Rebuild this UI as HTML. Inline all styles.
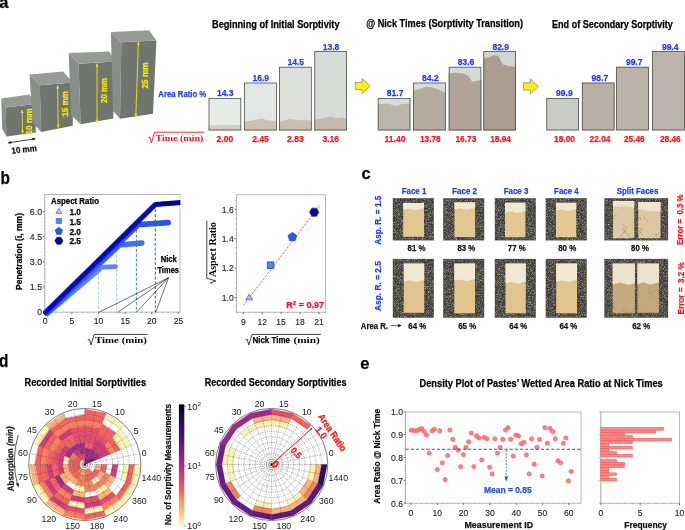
<!DOCTYPE html>
<html><head><meta charset="utf-8"><style>
html,body{margin:0;padding:0;background:#fff;width:685px;height:530px;overflow:hidden}
svg{display:block;will-change:transform}
</style></head><body>
<svg width="685" height="530" viewBox="0 0 685 530">
<defs>
<filter id="spk" x="0" y="0" width="100%" height="100%" color-interpolation-filters="sRGB">
 <feTurbulence type="fractalNoise" baseFrequency="1.5" numOctaves="2" seed="7" result="n"/>
 <feColorMatrix in="n" type="matrix" values="0 0 0 0 0.66  0 0 0 0 0.65  0 0 0 0 0.60  2.4 0 0 0 -0.98" result="s"/>
 <feGaussianBlur in="s" stdDeviation="0.01" result="s2"/>
 <feComposite in="s2" in2="SourceAlpha" operator="in"/>
</filter>
<filter id="blur03"><feGaussianBlur stdDeviation="0.35"/></filter>
</defs><defs><linearGradient id="magma" x1="0" y1="1" x2="0" y2="0"><stop offset="0.000" stop-color="#fcfdbf"/><stop offset="0.111" stop-color="#fec488"/><stop offset="0.222" stop-color="#fc8961"/><stop offset="0.333" stop-color="#e75263"/><stop offset="0.444" stop-color="#c03a76"/><stop offset="0.556" stop-color="#8c2981"/><stop offset="0.667" stop-color="#641a80"/><stop offset="0.778" stop-color="#3b0f70"/><stop offset="0.889" stop-color="#1d1147"/><stop offset="1.000" stop-color="#000004"/></linearGradient></defs>
<text x="-0.8" y="8.2" font-size="16.5" font-weight="bold" fill="#000" text-anchor="start" font-family='"Liberation Sans", sans-serif'  stroke="#000" stroke-width="0.25">a</text>
<text x="0.5" y="183.9" font-size="17.9" font-weight="bold" fill="#000" text-anchor="start" font-family='"Liberation Sans", sans-serif' textLength="9.4" lengthAdjust="spacingAndGlyphs"  stroke="#000" stroke-width="0.25">b</text>
<text x="361.5" y="179.3" font-size="16.5" font-weight="bold" fill="#000" text-anchor="start" font-family='"Liberation Sans", sans-serif'  stroke="#000" stroke-width="0.25">c</text>
<text x="-1.0" y="366.7" font-size="17.8" font-weight="bold" fill="#000" text-anchor="start" font-family='"Liberation Sans", sans-serif' textLength="9.4" lengthAdjust="spacingAndGlyphs"  stroke="#000" stroke-width="0.25">d</text>
<text x="360.3" y="369.2" font-size="16.5" font-weight="bold" fill="#000" text-anchor="start" font-family='"Liberation Sans", sans-serif'  stroke="#000" stroke-width="0.25">e</text>
<polygon points="1.3,98.6 5.6,107.4 6.4,136.4 2.2,129.0" fill="#878d88" />
<polygon points="5.6,107.4 35.6,104.0 35.8,132.4 6.4,136.4" fill="#71756f" />
<polygon points="1.3,98.6 29.4,94.4 35.6,104.0 5.6,107.4" fill="#979b95" />
<polygon points="29.6,74.4 39.8,85.2 41.2,132.0 32.6,122.6" fill="#878d88" />
<polygon points="39.8,85.2 72.8,82.6 72.8,125.8 41.2,132.0" fill="#71756f" />
<polygon points="29.6,74.4 63.0,71.4 72.8,82.6 39.8,85.2" fill="#979b95" />
<polygon points="68.8,53.0 78.6,63.8 80.6,124.2 70.8,114.6" fill="#878d88" />
<polygon points="78.6,63.8 115.5,61.6 113.2,118.4 80.6,124.2" fill="#71756f" />
<polygon points="68.8,53.0 109.2,51.5 115.5,61.6 78.6,63.8" fill="#979b95" />
<polygon points="110.9,32.0 121.4,42.2 120.0,118.8 113.0,110.8" fill="#878d88" />
<polygon points="121.4,42.2 156.4,40.4 153.0,113.8 120.0,118.8" fill="#71756f" />
<polygon points="110.9,32.0 149.0,30.2 156.4,40.4 121.4,42.2" fill="#979b95" />
<line x1="22.0" y1="110.0" x2="22.6" y2="133.6" stroke="#f2e60a" stroke-width="0.9"/>
<polygon points="22.0,110.0 20.6,113.0 23.6,113.0" fill="#f2e60a"/>
<polygon points="22.6,133.6 24.0,130.6 21.0,130.6" fill="#f2e60a"/>
<line x1="57.6" y1="85.6" x2="58.2" y2="127.8" stroke="#f2e60a" stroke-width="0.9"/>
<polygon points="57.6,85.6 56.1,88.6 59.1,88.6" fill="#f2e60a"/>
<polygon points="58.2,127.8 59.7,124.8 56.7,124.8" fill="#f2e60a"/>
<line x1="97.0" y1="63.8" x2="97.0" y2="122.8" stroke="#f2e60a" stroke-width="0.9"/>
<polygon points="97.0,63.8 95.5,66.8 98.5,66.8" fill="#f2e60a"/>
<polygon points="97.0,122.8 98.5,119.8 95.5,119.8" fill="#f2e60a"/>
<line x1="138.4" y1="41.8" x2="135.8" y2="116.6" stroke="#f2e60a" stroke-width="0.9"/>
<polygon points="138.4,41.8 136.8,44.7 139.8,44.9" fill="#f2e60a"/>
<polygon points="135.8,116.6 137.4,113.7 134.4,113.5" fill="#f2e60a"/>
<text transform="translate(29.4,121.5) rotate(-90)" x="0" y="0" font-size="8.4" font-weight="bold" fill="#f2e60a" text-anchor="middle" dominant-baseline="central" font-family='"Liberation Sans", sans-serif' textLength="26" lengthAdjust="spacingAndGlyphs" stroke="#f2e60a" stroke-width="0.3">10 mm</text>
<text transform="translate(65.2,104) rotate(-90)" x="0" y="0" font-size="8.4" font-weight="bold" fill="#f2e60a" text-anchor="middle" dominant-baseline="central" font-family='"Liberation Sans", sans-serif' textLength="25.5" lengthAdjust="spacingAndGlyphs" stroke="#f2e60a" stroke-width="0.3">15 mm</text>
<text transform="translate(104.2,90.5) rotate(-90)" x="0" y="0" font-size="8.4" font-weight="bold" fill="#f2e60a" text-anchor="middle" dominant-baseline="central" font-family='"Liberation Sans", sans-serif' textLength="25" lengthAdjust="spacingAndGlyphs" stroke="#f2e60a" stroke-width="0.3">20 mm</text>
<text transform="translate(144.6,75.5) rotate(-90)" x="0" y="0" font-size="8.4" font-weight="bold" fill="#f2e60a" text-anchor="middle" dominant-baseline="central" font-family='"Liberation Sans", sans-serif' textLength="26" lengthAdjust="spacingAndGlyphs" stroke="#f2e60a" stroke-width="0.3">25 mm</text>
<line x1="8.4" y1="142.8" x2="35.0" y2="138.8" stroke="#111" stroke-width="0.8"/>
<polygon points="7.6,142.9 11.0,140.9 11.4,143.7" fill="#111"/>
<polygon points="35.8,138.7 32.2,137.8 32.7,140.6" fill="#111"/>
<text transform="translate(24.4,152.4) rotate(-6)" font-size="8.6" stroke="#111" stroke-width="0.2" font-weight="bold" text-anchor="middle" font-family='"Liberation Sans", sans-serif' textLength="25.5" lengthAdjust="spacingAndGlyphs">10 mm</text>
<rect x="208.6" y="98.0" width="32.6" height="32.400000000000006" fill="#e6ebe8"/>
<path d="M208.6,130.4 L208.6,125.6 L224.9,125.0 L241.2,125.2 L241.2,130.4 Z" fill="#d3cdc3"/>
<rect x="209.0" y="98.4" width="31.8" height="31.600000000000005" fill="none" stroke="#4a4a46" stroke-width="0.75"/>
<text x="225.20000000000002" y="96.3" font-size="9.3" font-weight="bold" fill="#1d3cf5" text-anchor="middle" font-family='"Liberation Sans", sans-serif' textLength="16.6" lengthAdjust="spacingAndGlyphs"  stroke="#1d3cf5" stroke-width="0.25">14.3</text>
<text x="224.9" y="141.9" font-size="9.3" font-weight="bold" fill="#f5161b" text-anchor="middle" font-family='"Liberation Sans", sans-serif' textLength="16.6" lengthAdjust="spacingAndGlyphs"  stroke="#f5161b" stroke-width="0.25">2.00</text>
<rect x="244.2" y="82.6" width="32.6" height="47.80000000000001" fill="#e3e7e3"/>
<path d="M244.2,130.4 L244.2,121.5 L252.3,120.5 L257.2,119.2 L262.1,118.4 L267.0,120.2 L276.8,121.0 L276.8,130.4 Z" fill="#cbc2b4"/>
<rect x="244.6" y="83.0" width="31.8" height="47.000000000000014" fill="none" stroke="#4a4a46" stroke-width="0.75"/>
<text x="260.8" y="80.89999999999999" font-size="9.3" font-weight="bold" fill="#1d3cf5" text-anchor="middle" font-family='"Liberation Sans", sans-serif' textLength="16.6" lengthAdjust="spacingAndGlyphs"  stroke="#1d3cf5" stroke-width="0.25">16.9</text>
<text x="260.5" y="141.9" font-size="9.3" font-weight="bold" fill="#f5161b" text-anchor="middle" font-family='"Liberation Sans", sans-serif' textLength="16.6" lengthAdjust="spacingAndGlyphs"  stroke="#f5161b" stroke-width="0.25">2.45</text>
<rect x="279.1" y="66.8" width="32.6" height="63.60000000000001" fill="#dcdfda"/>
<path d="M279.1,130.4 L279.1,121.8 L285.6,120.0 L290.5,119.0 L298.7,120.5 L305.2,119.6 L311.7,121.0 L311.70000000000005,130.4 Z" fill="#c8bfb0"/>
<rect x="279.5" y="67.2" width="31.8" height="62.80000000000001" fill="none" stroke="#4a4a46" stroke-width="0.75"/>
<text x="295.70000000000005" y="65.1" font-size="9.3" font-weight="bold" fill="#1d3cf5" text-anchor="middle" font-family='"Liberation Sans", sans-serif' textLength="16.6" lengthAdjust="spacingAndGlyphs"  stroke="#1d3cf5" stroke-width="0.25">14.5</text>
<text x="295.40000000000003" y="141.9" font-size="9.3" font-weight="bold" fill="#f5161b" text-anchor="middle" font-family='"Liberation Sans", sans-serif' textLength="16.6" lengthAdjust="spacingAndGlyphs"  stroke="#f5161b" stroke-width="0.25">2.83</text>
<rect x="314.4" y="51.2" width="32.6" height="79.2" fill="#d6dbd6"/>
<path d="M314.4,130.4 L314.4,119.8 L324.2,118.0 L330.7,116.8 L337.2,118.2 L342.1,117.2 L347.0,119.2 L347.0,130.4 Z" fill="#c4baab"/>
<rect x="314.79999999999995" y="51.6" width="31.8" height="78.4" fill="none" stroke="#4a4a46" stroke-width="0.75"/>
<text x="331.0" y="49.5" font-size="9.3" font-weight="bold" fill="#1d3cf5" text-anchor="middle" font-family='"Liberation Sans", sans-serif' textLength="16.6" lengthAdjust="spacingAndGlyphs"  stroke="#1d3cf5" stroke-width="0.25">13.8</text>
<text x="330.7" y="141.9" font-size="9.3" font-weight="bold" fill="#f5161b" text-anchor="middle" font-family='"Liberation Sans", sans-serif' textLength="16.6" lengthAdjust="spacingAndGlyphs"  stroke="#f5161b" stroke-width="0.25">3.16</text>
<rect x="377.8" y="98.0" width="32.6" height="32.400000000000006" fill="#d5ddd9"/>
<path d="M377.8,130.4 L377.8,104.5 L387.6,103.5 L395.7,106.0 L402.2,104.0 L410.4,103.5 L410.40000000000003,130.4 Z" fill="#bbb6ab"/>
<rect x="378.2" y="98.4" width="31.8" height="31.600000000000005" fill="none" stroke="#4a4a46" stroke-width="0.75"/>
<text x="395.1" y="96.3" font-size="9.3" font-weight="bold" fill="#1d3cf5" text-anchor="middle" font-family='"Liberation Sans", sans-serif' textLength="16.6" lengthAdjust="spacingAndGlyphs"  stroke="#1d3cf5" stroke-width="0.25">81.7</text>
<text x="395.0" y="141.9" font-size="9.3" font-weight="bold" fill="#f5161b" text-anchor="middle" font-family='"Liberation Sans", sans-serif' textLength="20.8" lengthAdjust="spacingAndGlyphs"  stroke="#f5161b" stroke-width="0.25">11.40</text>
<rect x="413.1" y="82.6" width="32.6" height="47.80000000000001" fill="#d6ddd9"/>
<path d="M413.1,130.4 L413.1,91.0 L421.2,88.5 L426.1,86.8 L432.7,87.5 L439.2,90.0 L445.7,93.0 L445.70000000000005,130.4 Z" fill="#b6aa9c"/>
<rect x="413.5" y="83.0" width="31.8" height="47.000000000000014" fill="none" stroke="#4a4a46" stroke-width="0.75"/>
<text x="430.40000000000003" y="80.89999999999999" font-size="9.3" font-weight="bold" fill="#1d3cf5" text-anchor="middle" font-family='"Liberation Sans", sans-serif' textLength="16.6" lengthAdjust="spacingAndGlyphs"  stroke="#1d3cf5" stroke-width="0.25">84.2</text>
<text x="430.3" y="141.9" font-size="9.3" font-weight="bold" fill="#f5161b" text-anchor="middle" font-family='"Liberation Sans", sans-serif' textLength="20.8" lengthAdjust="spacingAndGlyphs"  stroke="#f5161b" stroke-width="0.25">13.78</text>
<rect x="448.7" y="66.8" width="32.6" height="63.60000000000001" fill="#d4dbd7"/>
<path d="M448.7,130.4 L448.7,73.5 L455.2,72.8 L463.4,73.5 L468.3,76.0 L472.2,81.8 L476.4,81.0 L481.3,80.0 L481.3,130.4 Z" fill="#b1a395"/>
<rect x="449.09999999999997" y="67.2" width="31.8" height="62.80000000000001" fill="none" stroke="#4a4a46" stroke-width="0.75"/>
<text x="466.0" y="65.1" font-size="9.3" font-weight="bold" fill="#1d3cf5" text-anchor="middle" font-family='"Liberation Sans", sans-serif' textLength="16.6" lengthAdjust="spacingAndGlyphs"  stroke="#1d3cf5" stroke-width="0.25">83.6</text>
<text x="465.9" y="141.9" font-size="9.3" font-weight="bold" fill="#f5161b" text-anchor="middle" font-family='"Liberation Sans", sans-serif' textLength="20.8" lengthAdjust="spacingAndGlyphs"  stroke="#f5161b" stroke-width="0.25">16.73</text>
<rect x="483.4" y="51.2" width="32.6" height="79.2" fill="#ced5d2"/>
<path d="M483.4,130.4 L483.4,58.5 L489.9,57.2 L493.2,55.2 L498.1,55.6 L500.4,60.0 L503.0,64.5 L507.8,66.0 L516.0,66.8 L516.0,130.4 Z" fill="#aa9c8e"/>
<rect x="483.79999999999995" y="51.6" width="31.8" height="78.4" fill="none" stroke="#4a4a46" stroke-width="0.75"/>
<text x="500.7" y="49.5" font-size="9.3" font-weight="bold" fill="#1d3cf5" text-anchor="middle" font-family='"Liberation Sans", sans-serif' textLength="16.6" lengthAdjust="spacingAndGlyphs"  stroke="#1d3cf5" stroke-width="0.25">82.9</text>
<text x="500.59999999999997" y="141.9" font-size="9.3" font-weight="bold" fill="#f5161b" text-anchor="middle" font-family='"Liberation Sans", sans-serif' textLength="20.8" lengthAdjust="spacingAndGlyphs"  stroke="#f5161b" stroke-width="0.25">18.94</text>
<rect x="546.4" y="98.0" width="32.6" height="32.400000000000006" fill="#c9ccc5"/>
<rect x="546.8" y="98.4" width="31.8" height="31.600000000000005" fill="none" stroke="#4a4a46" stroke-width="0.75"/>
<text x="564.3999999999999" y="96.3" font-size="9.3" font-weight="bold" fill="#1d3cf5" text-anchor="middle" font-family='"Liberation Sans", sans-serif' textLength="16.6" lengthAdjust="spacingAndGlyphs"  stroke="#1d3cf5" stroke-width="0.25">99.9</text>
<text x="564.4999999999999" y="141.9" font-size="9.3" font-weight="bold" fill="#f5161b" text-anchor="middle" font-family='"Liberation Sans", sans-serif' textLength="20.8" lengthAdjust="spacingAndGlyphs"  stroke="#f5161b" stroke-width="0.25">18.00</text>
<rect x="581.9" y="82.6" width="32.6" height="47.80000000000001" fill="#b9b0a5"/>
<rect x="582.3" y="83.0" width="31.8" height="47.000000000000014" fill="none" stroke="#4a4a46" stroke-width="0.75"/>
<text x="599.8999999999999" y="80.89999999999999" font-size="9.3" font-weight="bold" fill="#1d3cf5" text-anchor="middle" font-family='"Liberation Sans", sans-serif' textLength="16.6" lengthAdjust="spacingAndGlyphs"  stroke="#1d3cf5" stroke-width="0.25">98.7</text>
<text x="599.9999999999999" y="141.9" font-size="9.3" font-weight="bold" fill="#f5161b" text-anchor="middle" font-family='"Liberation Sans", sans-serif' textLength="20.8" lengthAdjust="spacingAndGlyphs"  stroke="#f5161b" stroke-width="0.25">22.04</text>
<rect x="616.2" y="66.8" width="32.6" height="63.60000000000001" fill="#bab3a9"/>
<rect x="616.6" y="67.2" width="31.8" height="62.80000000000001" fill="none" stroke="#4a4a46" stroke-width="0.75"/>
<text x="634.1999999999999" y="65.1" font-size="9.3" font-weight="bold" fill="#1d3cf5" text-anchor="middle" font-family='"Liberation Sans", sans-serif' textLength="16.6" lengthAdjust="spacingAndGlyphs"  stroke="#1d3cf5" stroke-width="0.25">99.7</text>
<text x="634.3" y="141.9" font-size="9.3" font-weight="bold" fill="#f5161b" text-anchor="middle" font-family='"Liberation Sans", sans-serif' textLength="20.8" lengthAdjust="spacingAndGlyphs"  stroke="#f5161b" stroke-width="0.25">25.46</text>
<rect x="652.2" y="51.2" width="32.6" height="79.2" fill="#bab4ac"/>
<rect x="652.6" y="51.6" width="31.8" height="78.4" fill="none" stroke="#4a4a46" stroke-width="0.75"/>
<text x="670.1999999999999" y="49.5" font-size="9.3" font-weight="bold" fill="#1d3cf5" text-anchor="middle" font-family='"Liberation Sans", sans-serif' textLength="16.6" lengthAdjust="spacingAndGlyphs"  stroke="#1d3cf5" stroke-width="0.25">99.4</text>
<text x="670.3" y="141.9" font-size="9.3" font-weight="bold" fill="#f5161b" text-anchor="middle" font-family='"Liberation Sans", sans-serif' textLength="20.8" lengthAdjust="spacingAndGlyphs"  stroke="#f5161b" stroke-width="0.25">28.46</text>
<text x="158.3" y="97.4" font-size="9.3" font-weight="bold" fill="#1d3cf5" text-anchor="start" font-family='"Liberation Sans", sans-serif' textLength="48" lengthAdjust="spacingAndGlyphs"  stroke="#1d3cf5" stroke-width="0.25">Area Ratio %</text>
<path d="M148.2,138.0 L149.8,137.0 L151.4,143.0 L154.6,132.2 L204.0,132.2" fill="none" stroke="#f5161b" stroke-width="0.9"/>
<text x="155.4" y="141.3" font-size="9.2" font-weight="bold" fill="#f5161b" text-anchor="start" font-family='"Liberation Serif", serif' textLength="48" lengthAdjust="spacingAndGlyphs" >Time (min)</text>
<text x="212.0" y="27.5" font-size="10.2" font-weight="bold" fill="#000" text-anchor="start" font-family='"Liberation Sans", sans-serif' textLength="127.5" lengthAdjust="spacingAndGlyphs"  stroke="#000" stroke-width="0.25">Beginning of Initial Sorptivity</text>
<text x="366.2" y="27.4" font-size="10.2" font-weight="bold" fill="#000" text-anchor="start" font-family='"Liberation Sans", sans-serif' textLength="156.8" lengthAdjust="spacingAndGlyphs"  stroke="#000" stroke-width="0.25">@ Nick Times (Sorptivity Transition)</text>
<text x="552.1" y="28.0" font-size="10.2" font-weight="bold" fill="#000" text-anchor="start" font-family='"Liberation Sans", sans-serif' textLength="120.8" lengthAdjust="spacingAndGlyphs"  stroke="#000" stroke-width="0.25">End of Secondary Sorptivity</text>
<polygon points="355.2,82.4 362.2,82.4 362.2,78.5 370.2,86.0 362.2,93.5 362.2,89.6 355.2,89.6" fill="#fbf200" stroke="#8e6aa6" stroke-width="0.7"/>
<polygon points="523.4,82.8 530.4,82.8 530.4,78.9 538.4,86.4 530.4,93.9 530.4,90.0 523.4,90.0" fill="#fbf200" stroke="#8e6aa6" stroke-width="0.7"/>
<rect x="44.9" y="194.4" width="135.1" height="117.70000000000002" fill="none" stroke="#a6a6a6" stroke-width="0.8"/>
<line x1="42.9" y1="312.1" x2="44.9" y2="312.1" stroke="#555" stroke-width="0.8"/>
<text x="42.1" y="312.40000000000003" font-size="8.6" fill="#222" stroke="#222" stroke-width="0.12" text-anchor="end" dominant-baseline="central" font-family='"Liberation Sans", sans-serif'>0</text>
<line x1="42.9" y1="287.0" x2="44.9" y2="287.0" stroke="#555" stroke-width="0.8"/>
<text x="42.1" y="287.305" font-size="8.6" fill="#222" stroke="#222" stroke-width="0.12" text-anchor="end" dominant-baseline="central" font-family='"Liberation Sans", sans-serif' textLength="12.3" lengthAdjust="spacingAndGlyphs">1.5</text>
<line x1="42.9" y1="261.9" x2="44.9" y2="261.9" stroke="#555" stroke-width="0.8"/>
<text x="42.1" y="262.21000000000004" font-size="8.6" fill="#222" stroke="#222" stroke-width="0.12" text-anchor="end" dominant-baseline="central" font-family='"Liberation Sans", sans-serif' textLength="12.3" lengthAdjust="spacingAndGlyphs">3.0</text>
<line x1="42.9" y1="236.8" x2="44.9" y2="236.8" stroke="#555" stroke-width="0.8"/>
<text x="42.1" y="237.11500000000004" font-size="8.6" fill="#222" stroke="#222" stroke-width="0.12" text-anchor="end" dominant-baseline="central" font-family='"Liberation Sans", sans-serif' textLength="12.3" lengthAdjust="spacingAndGlyphs">4.5</text>
<line x1="42.9" y1="211.7" x2="44.9" y2="211.7" stroke="#555" stroke-width="0.8"/>
<text x="42.1" y="212.02000000000004" font-size="8.6" fill="#222" stroke="#222" stroke-width="0.12" text-anchor="end" dominant-baseline="central" font-family='"Liberation Sans", sans-serif' textLength="12.3" lengthAdjust="spacingAndGlyphs">6.0</text>
<line x1="43.9" y1="312.1" x2="44.9" y2="312.1" stroke="#777" stroke-width="0.5"/>
<line x1="43.9" y1="308.8" x2="44.9" y2="308.8" stroke="#777" stroke-width="0.5"/>
<line x1="43.9" y1="305.4" x2="44.9" y2="305.4" stroke="#777" stroke-width="0.5"/>
<line x1="43.9" y1="302.1" x2="44.9" y2="302.1" stroke="#777" stroke-width="0.5"/>
<line x1="43.9" y1="298.7" x2="44.9" y2="298.7" stroke="#777" stroke-width="0.5"/>
<line x1="43.9" y1="295.4" x2="44.9" y2="295.4" stroke="#777" stroke-width="0.5"/>
<line x1="43.9" y1="292.0" x2="44.9" y2="292.0" stroke="#777" stroke-width="0.5"/>
<line x1="43.9" y1="288.7" x2="44.9" y2="288.7" stroke="#777" stroke-width="0.5"/>
<line x1="43.9" y1="285.3" x2="44.9" y2="285.3" stroke="#777" stroke-width="0.5"/>
<line x1="43.9" y1="282.0" x2="44.9" y2="282.0" stroke="#777" stroke-width="0.5"/>
<line x1="43.9" y1="278.6" x2="44.9" y2="278.6" stroke="#777" stroke-width="0.5"/>
<line x1="43.9" y1="275.3" x2="44.9" y2="275.3" stroke="#777" stroke-width="0.5"/>
<line x1="43.9" y1="271.9" x2="44.9" y2="271.9" stroke="#777" stroke-width="0.5"/>
<line x1="43.9" y1="268.6" x2="44.9" y2="268.6" stroke="#777" stroke-width="0.5"/>
<line x1="43.9" y1="265.3" x2="44.9" y2="265.3" stroke="#777" stroke-width="0.5"/>
<line x1="43.9" y1="261.9" x2="44.9" y2="261.9" stroke="#777" stroke-width="0.5"/>
<line x1="43.9" y1="258.6" x2="44.9" y2="258.6" stroke="#777" stroke-width="0.5"/>
<line x1="43.9" y1="255.2" x2="44.9" y2="255.2" stroke="#777" stroke-width="0.5"/>
<line x1="43.9" y1="251.9" x2="44.9" y2="251.9" stroke="#777" stroke-width="0.5"/>
<line x1="43.9" y1="248.5" x2="44.9" y2="248.5" stroke="#777" stroke-width="0.5"/>
<line x1="43.9" y1="245.2" x2="44.9" y2="245.2" stroke="#777" stroke-width="0.5"/>
<line x1="43.9" y1="241.8" x2="44.9" y2="241.8" stroke="#777" stroke-width="0.5"/>
<line x1="43.9" y1="238.5" x2="44.9" y2="238.5" stroke="#777" stroke-width="0.5"/>
<line x1="43.9" y1="235.1" x2="44.9" y2="235.1" stroke="#777" stroke-width="0.5"/>
<line x1="43.9" y1="231.8" x2="44.9" y2="231.8" stroke="#777" stroke-width="0.5"/>
<line x1="43.9" y1="228.5" x2="44.9" y2="228.5" stroke="#777" stroke-width="0.5"/>
<line x1="43.9" y1="225.1" x2="44.9" y2="225.1" stroke="#777" stroke-width="0.5"/>
<line x1="43.9" y1="221.8" x2="44.9" y2="221.8" stroke="#777" stroke-width="0.5"/>
<line x1="43.9" y1="218.4" x2="44.9" y2="218.4" stroke="#777" stroke-width="0.5"/>
<line x1="43.9" y1="215.1" x2="44.9" y2="215.1" stroke="#777" stroke-width="0.5"/>
<line x1="43.9" y1="211.7" x2="44.9" y2="211.7" stroke="#777" stroke-width="0.5"/>
<line x1="43.9" y1="208.4" x2="44.9" y2="208.4" stroke="#777" stroke-width="0.5"/>
<line x1="43.9" y1="205.0" x2="44.9" y2="205.0" stroke="#777" stroke-width="0.5"/>
<line x1="43.9" y1="201.7" x2="44.9" y2="201.7" stroke="#777" stroke-width="0.5"/>
<line x1="43.9" y1="198.3" x2="44.9" y2="198.3" stroke="#777" stroke-width="0.5"/>
<line x1="43.9" y1="195.0" x2="44.9" y2="195.0" stroke="#777" stroke-width="0.5"/>
<line x1="45.2" y1="312.1" x2="45.2" y2="314.1" stroke="#555" stroke-width="0.8"/>
<text x="45.2" y="320.6" font-size="8.6" fill="#222" stroke="#222" stroke-width="0.12" text-anchor="middle" dominant-baseline="central" font-family='"Liberation Sans", sans-serif'>0</text>
<line x1="71.9" y1="312.1" x2="71.9" y2="314.1" stroke="#555" stroke-width="0.8"/>
<text x="71.86" y="320.6" font-size="8.6" fill="#222" stroke="#222" stroke-width="0.12" text-anchor="middle" dominant-baseline="central" font-family='"Liberation Sans", sans-serif'>5</text>
<line x1="98.5" y1="312.1" x2="98.5" y2="314.1" stroke="#555" stroke-width="0.8"/>
<text x="98.52000000000001" y="320.6" font-size="8.6" fill="#222" stroke="#222" stroke-width="0.12" text-anchor="middle" dominant-baseline="central" font-family='"Liberation Sans", sans-serif'>10</text>
<line x1="125.2" y1="312.1" x2="125.2" y2="314.1" stroke="#555" stroke-width="0.8"/>
<text x="125.18" y="320.6" font-size="8.6" fill="#222" stroke="#222" stroke-width="0.12" text-anchor="middle" dominant-baseline="central" font-family='"Liberation Sans", sans-serif'>15</text>
<line x1="151.8" y1="312.1" x2="151.8" y2="314.1" stroke="#555" stroke-width="0.8"/>
<text x="151.84" y="320.6" font-size="8.6" fill="#222" stroke="#222" stroke-width="0.12" text-anchor="middle" dominant-baseline="central" font-family='"Liberation Sans", sans-serif'>20</text>
<line x1="178.5" y1="312.1" x2="178.5" y2="314.1" stroke="#555" stroke-width="0.8"/>
<text x="178.5" y="320.6" font-size="8.6" fill="#222" stroke="#222" stroke-width="0.12" text-anchor="middle" dominant-baseline="central" font-family='"Liberation Sans", sans-serif'>25</text>
<line x1="45.2" y1="312.1" x2="45.2" y2="313.1" stroke="#777" stroke-width="0.5"/>
<line x1="50.5" y1="312.1" x2="50.5" y2="313.1" stroke="#777" stroke-width="0.5"/>
<line x1="55.9" y1="312.1" x2="55.9" y2="313.1" stroke="#777" stroke-width="0.5"/>
<line x1="61.2" y1="312.1" x2="61.2" y2="313.1" stroke="#777" stroke-width="0.5"/>
<line x1="66.5" y1="312.1" x2="66.5" y2="313.1" stroke="#777" stroke-width="0.5"/>
<line x1="71.9" y1="312.1" x2="71.9" y2="313.1" stroke="#777" stroke-width="0.5"/>
<line x1="77.2" y1="312.1" x2="77.2" y2="313.1" stroke="#777" stroke-width="0.5"/>
<line x1="82.5" y1="312.1" x2="82.5" y2="313.1" stroke="#777" stroke-width="0.5"/>
<line x1="87.9" y1="312.1" x2="87.9" y2="313.1" stroke="#777" stroke-width="0.5"/>
<line x1="93.2" y1="312.1" x2="93.2" y2="313.1" stroke="#777" stroke-width="0.5"/>
<line x1="98.5" y1="312.1" x2="98.5" y2="313.1" stroke="#777" stroke-width="0.5"/>
<line x1="103.9" y1="312.1" x2="103.9" y2="313.1" stroke="#777" stroke-width="0.5"/>
<line x1="109.2" y1="312.1" x2="109.2" y2="313.1" stroke="#777" stroke-width="0.5"/>
<line x1="114.5" y1="312.1" x2="114.5" y2="313.1" stroke="#777" stroke-width="0.5"/>
<line x1="119.8" y1="312.1" x2="119.8" y2="313.1" stroke="#777" stroke-width="0.5"/>
<line x1="125.2" y1="312.1" x2="125.2" y2="313.1" stroke="#777" stroke-width="0.5"/>
<line x1="130.5" y1="312.1" x2="130.5" y2="313.1" stroke="#777" stroke-width="0.5"/>
<line x1="135.8" y1="312.1" x2="135.8" y2="313.1" stroke="#777" stroke-width="0.5"/>
<line x1="141.2" y1="312.1" x2="141.2" y2="313.1" stroke="#777" stroke-width="0.5"/>
<line x1="146.5" y1="312.1" x2="146.5" y2="313.1" stroke="#777" stroke-width="0.5"/>
<line x1="151.8" y1="312.1" x2="151.8" y2="313.1" stroke="#777" stroke-width="0.5"/>
<line x1="157.2" y1="312.1" x2="157.2" y2="313.1" stroke="#777" stroke-width="0.5"/>
<line x1="162.5" y1="312.1" x2="162.5" y2="313.1" stroke="#777" stroke-width="0.5"/>
<line x1="167.8" y1="312.1" x2="167.8" y2="313.1" stroke="#777" stroke-width="0.5"/>
<line x1="173.2" y1="312.1" x2="173.2" y2="313.1" stroke="#777" stroke-width="0.5"/>
<line x1="178.5" y1="312.1" x2="178.5" y2="313.1" stroke="#777" stroke-width="0.5"/>
<line x1="98.5" y1="267.5" x2="98.5" y2="312.1" stroke="#9ecbf2" stroke-width="0.9" stroke-dasharray="3,1.8"/>
<line x1="116.7" y1="245" x2="116.7" y2="312.1" stroke="#8fc0f0" stroke-width="0.9" stroke-dasharray="3,1.8"/>
<line x1="136.4" y1="225" x2="136.4" y2="312.1" stroke="#2f73c2" stroke-width="0.9" stroke-dasharray="3,1.8"/>
<line x1="155.3" y1="204.5" x2="155.3" y2="312.1" stroke="#1f4f8f" stroke-width="0.9" stroke-dasharray="3,1.8"/>
<polyline points="47.28,313.88 100.08000000000001,269.08 98.4,267.4 115.5,266.6" fill="none" stroke="#6a82ea" stroke-width="4.6" stroke-linejoin="round" stroke-linecap="round"/>
<polyline points="46.86,313.46 117.96000000000001,246.45999999999998 116.7,245.2 141.9,243.0" fill="none" stroke="#3c72ee" stroke-width="5.4" stroke-linejoin="round" stroke-linecap="round"/>
<polyline points="46.300000000000004,312.9 137.39999999999998,225.5 136.7,224.8 168.3,222.6" fill="none" stroke="#2a58e6" stroke-width="5.6" stroke-linejoin="round" stroke-linecap="round"/>
<polyline points="45.6,312.2 155.4,204.4 155.4,204.4 181.0,202.6" fill="none" stroke="#1212c8" stroke-width="5.0" stroke-linejoin="round" stroke-linecap="round"/>
<polyline points="46.5,311.2 155.4,204.6" fill="none" stroke="#0606a8" stroke-width="2.4" stroke-linejoin="round" opacity="0.85"/>
<polyline points="155.4,204.4 181,202.6" fill="none" stroke="#000098" stroke-width="4.4" stroke-linejoin="round"/>
<rect x="180.4" y="196" width="4" height="14" fill="#fff"/>
<line x1="168.5" y1="277.7" x2="99.0" y2="312.3" stroke="#111" stroke-width="0.6"/>
<line x1="168.5" y1="277.7" x2="117.7" y2="312.3" stroke="#111" stroke-width="0.6"/>
<line x1="168.5" y1="277.7" x2="136.4" y2="312.3" stroke="#111" stroke-width="0.6"/>
<line x1="168.5" y1="277.7" x2="155.7" y2="312.3" stroke="#111" stroke-width="0.6"/>
<text x="168.8" y="262.4" font-size="8.2" font-weight="bold" fill="#000" text-anchor="middle" font-family='"Liberation Sans", sans-serif' textLength="16.1" lengthAdjust="spacingAndGlyphs"  stroke="#000" stroke-width="0.25">Nick</text>
<text x="168.2" y="273.0" font-size="8.2" font-weight="bold" fill="#000" text-anchor="middle" font-family='"Liberation Sans", sans-serif' textLength="21.6" lengthAdjust="spacingAndGlyphs"  stroke="#000" stroke-width="0.25">Times</text>
<text x="51.0" y="203.6" font-size="8.3" font-weight="bold" fill="#000" text-anchor="start" font-family='"Liberation Sans", sans-serif' textLength="48" lengthAdjust="spacingAndGlyphs"  stroke="#000" stroke-width="0.25">Aspect Ratio</text>
<polygon points="58.90,208.20 61.94,213.38 55.86,213.38" fill="#c2c8f2" stroke="#4a5ae0" stroke-width="0.7"/>
<polygon points="56.30,218.40 61.50,218.40 61.50,223.60 56.30,223.60" fill="#4a86f2" stroke="#3a6ae8" stroke-width="0.7"/>
<polygon points="58.90,227.30 62.61,229.99 61.19,234.36 56.61,234.36 55.19,229.99" fill="#2458e8" stroke="#2450e0" stroke-width="0.7"/>
<polygon points="62.90,240.80 60.90,244.26 56.90,244.26 54.90,240.80 56.90,237.34 60.90,237.34" fill="#0a0a90" stroke="#0a0a80" stroke-width="0.7"/>
<text x="69.4" y="215.0" font-size="8.6" font-weight="bold" fill="#000" text-anchor="start" font-family='"Liberation Sans", sans-serif' textLength="11.6" lengthAdjust="spacingAndGlyphs"  stroke="#000" stroke-width="0.25">1.0</text>
<text x="69.4" y="225.0" font-size="8.6" font-weight="bold" fill="#000" text-anchor="start" font-family='"Liberation Sans", sans-serif' textLength="11.6" lengthAdjust="spacingAndGlyphs"  stroke="#000" stroke-width="0.25">1.5</text>
<text x="69.4" y="234.9" font-size="8.6" font-weight="bold" fill="#000" text-anchor="start" font-family='"Liberation Sans", sans-serif' textLength="11.6" lengthAdjust="spacingAndGlyphs"  stroke="#000" stroke-width="0.25">2.0</text>
<text x="69.4" y="244.3" font-size="8.6" font-weight="bold" fill="#000" text-anchor="start" font-family='"Liberation Sans", sans-serif' textLength="11.6" lengthAdjust="spacingAndGlyphs"  stroke="#000" stroke-width="0.25">2.5</text>
<text stroke="#000" stroke-width="0.22" transform="translate(18.9,251.5) rotate(-90)" font-size="8.6" font-weight="bold" text-anchor="middle" dominant-baseline="central" font-family='"Liberation Sans", sans-serif' textLength="77" lengthAdjust="spacingAndGlyphs">Penetration (i, mm)</text>
<path d="M87.8,340.2 L89.4,339.2 L91.0,345.0 L94.2,334.4 L147.6,334.4" fill="none" stroke="#111" stroke-width="0.8"/>
<text x="95.0" y="343.3" font-size="9.2" font-weight="bold" fill="#000" text-anchor="start" font-family='"Liberation Serif", serif' textLength="52" lengthAdjust="spacingAndGlyphs" >Time (min)</text>
<rect x="236.4" y="194.8" width="89.20000000000002" height="117.39999999999998" fill="none" stroke="#a6a6a6" stroke-width="0.8"/>
<line x1="234.4" y1="297.4" x2="236.4" y2="297.4" stroke="#555" stroke-width="0.8"/>
<text x="233.8" y="297.7" font-size="8.6" fill="#222" stroke="#222" stroke-width="0.12" text-anchor="end" dominant-baseline="central" font-family='"Liberation Sans", sans-serif' textLength="12.0" lengthAdjust="spacingAndGlyphs">1.0</text>
<line x1="234.4" y1="268.0" x2="236.4" y2="268.0" stroke="#555" stroke-width="0.8"/>
<text x="233.8" y="268.34" font-size="8.6" fill="#222" stroke="#222" stroke-width="0.12" text-anchor="end" dominant-baseline="central" font-family='"Liberation Sans", sans-serif' textLength="12.0" lengthAdjust="spacingAndGlyphs">1.2</text>
<line x1="234.4" y1="238.7" x2="236.4" y2="238.7" stroke="#555" stroke-width="0.8"/>
<text x="233.8" y="238.98" font-size="8.6" fill="#222" stroke="#222" stroke-width="0.12" text-anchor="end" dominant-baseline="central" font-family='"Liberation Sans", sans-serif' textLength="12.0" lengthAdjust="spacingAndGlyphs">1.4</text>
<line x1="234.4" y1="209.3" x2="236.4" y2="209.3" stroke="#555" stroke-width="0.8"/>
<text x="233.8" y="209.61999999999995" font-size="8.6" fill="#222" stroke="#222" stroke-width="0.12" text-anchor="end" dominant-baseline="central" font-family='"Liberation Sans", sans-serif' textLength="12.0" lengthAdjust="spacingAndGlyphs">1.6</text>
<line x1="235.4" y1="312.1" x2="236.4" y2="312.1" stroke="#777" stroke-width="0.5"/>
<line x1="235.4" y1="306.2" x2="236.4" y2="306.2" stroke="#777" stroke-width="0.5"/>
<line x1="235.4" y1="300.3" x2="236.4" y2="300.3" stroke="#777" stroke-width="0.5"/>
<line x1="235.4" y1="294.5" x2="236.4" y2="294.5" stroke="#777" stroke-width="0.5"/>
<line x1="235.4" y1="288.6" x2="236.4" y2="288.6" stroke="#777" stroke-width="0.5"/>
<line x1="235.4" y1="282.7" x2="236.4" y2="282.7" stroke="#777" stroke-width="0.5"/>
<line x1="235.4" y1="276.8" x2="236.4" y2="276.8" stroke="#777" stroke-width="0.5"/>
<line x1="235.4" y1="271.0" x2="236.4" y2="271.0" stroke="#777" stroke-width="0.5"/>
<line x1="235.4" y1="265.1" x2="236.4" y2="265.1" stroke="#777" stroke-width="0.5"/>
<line x1="235.4" y1="259.2" x2="236.4" y2="259.2" stroke="#777" stroke-width="0.5"/>
<line x1="235.4" y1="253.4" x2="236.4" y2="253.4" stroke="#777" stroke-width="0.5"/>
<line x1="235.4" y1="247.5" x2="236.4" y2="247.5" stroke="#777" stroke-width="0.5"/>
<line x1="235.4" y1="241.6" x2="236.4" y2="241.6" stroke="#777" stroke-width="0.5"/>
<line x1="235.4" y1="235.7" x2="236.4" y2="235.7" stroke="#777" stroke-width="0.5"/>
<line x1="235.4" y1="229.9" x2="236.4" y2="229.9" stroke="#777" stroke-width="0.5"/>
<line x1="235.4" y1="224.0" x2="236.4" y2="224.0" stroke="#777" stroke-width="0.5"/>
<line x1="235.4" y1="218.1" x2="236.4" y2="218.1" stroke="#777" stroke-width="0.5"/>
<line x1="235.4" y1="212.3" x2="236.4" y2="212.3" stroke="#777" stroke-width="0.5"/>
<line x1="235.4" y1="206.4" x2="236.4" y2="206.4" stroke="#777" stroke-width="0.5"/>
<line x1="235.4" y1="200.5" x2="236.4" y2="200.5" stroke="#777" stroke-width="0.5"/>
<line x1="243.3" y1="312.2" x2="243.3" y2="314.2" stroke="#555" stroke-width="0.8"/>
<text x="243.3" y="322.2" font-size="8.6" fill="#222" stroke="#222" stroke-width="0.12" text-anchor="middle" dominant-baseline="central" font-family='"Liberation Sans", sans-serif'>9</text>
<line x1="262.2" y1="312.2" x2="262.2" y2="314.2" stroke="#555" stroke-width="0.8"/>
<text x="262.2" y="322.2" font-size="8.6" fill="#222" stroke="#222" stroke-width="0.12" text-anchor="middle" dominant-baseline="central" font-family='"Liberation Sans", sans-serif' textLength="9.5" lengthAdjust="spacingAndGlyphs">12</text>
<line x1="281.1" y1="312.2" x2="281.1" y2="314.2" stroke="#555" stroke-width="0.8"/>
<text x="281.1" y="322.2" font-size="8.6" fill="#222" stroke="#222" stroke-width="0.12" text-anchor="middle" dominant-baseline="central" font-family='"Liberation Sans", sans-serif' textLength="9.5" lengthAdjust="spacingAndGlyphs">15</text>
<line x1="300.0" y1="312.2" x2="300.0" y2="314.2" stroke="#555" stroke-width="0.8"/>
<text x="300.0" y="322.2" font-size="8.6" fill="#222" stroke="#222" stroke-width="0.12" text-anchor="middle" dominant-baseline="central" font-family='"Liberation Sans", sans-serif' textLength="9.5" lengthAdjust="spacingAndGlyphs">18</text>
<line x1="318.9" y1="312.2" x2="318.9" y2="314.2" stroke="#555" stroke-width="0.8"/>
<text x="318.9" y="322.2" font-size="8.6" fill="#222" stroke="#222" stroke-width="0.12" text-anchor="middle" dominant-baseline="central" font-family='"Liberation Sans", sans-serif' textLength="9.5" lengthAdjust="spacingAndGlyphs">21</text>
<line x1="237.0" y1="312.2" x2="237.0" y2="313.2" stroke="#777" stroke-width="0.5"/>
<line x1="243.3" y1="312.2" x2="243.3" y2="313.2" stroke="#777" stroke-width="0.5"/>
<line x1="249.6" y1="312.2" x2="249.6" y2="313.2" stroke="#777" stroke-width="0.5"/>
<line x1="255.9" y1="312.2" x2="255.9" y2="313.2" stroke="#777" stroke-width="0.5"/>
<line x1="262.2" y1="312.2" x2="262.2" y2="313.2" stroke="#777" stroke-width="0.5"/>
<line x1="268.5" y1="312.2" x2="268.5" y2="313.2" stroke="#777" stroke-width="0.5"/>
<line x1="274.8" y1="312.2" x2="274.8" y2="313.2" stroke="#777" stroke-width="0.5"/>
<line x1="281.1" y1="312.2" x2="281.1" y2="313.2" stroke="#777" stroke-width="0.5"/>
<line x1="287.4" y1="312.2" x2="287.4" y2="313.2" stroke="#777" stroke-width="0.5"/>
<line x1="293.7" y1="312.2" x2="293.7" y2="313.2" stroke="#777" stroke-width="0.5"/>
<line x1="300.0" y1="312.2" x2="300.0" y2="313.2" stroke="#777" stroke-width="0.5"/>
<line x1="306.3" y1="312.2" x2="306.3" y2="313.2" stroke="#777" stroke-width="0.5"/>
<line x1="312.6" y1="312.2" x2="312.6" y2="313.2" stroke="#777" stroke-width="0.5"/>
<line x1="318.9" y1="312.2" x2="318.9" y2="313.2" stroke="#777" stroke-width="0.5"/>
<line x1="325.2" y1="312.2" x2="325.2" y2="313.2" stroke="#777" stroke-width="0.5"/>
<line x1="243.3" y1="305.5" x2="320.2" y2="205.0" stroke="#f03030" stroke-width="0.8" stroke-dasharray="2.2,1.4"/>
<polygon points="249.20,294.00 252.62,299.83 245.78,299.83" fill="#b5b9f2" stroke="#4a5ae0" stroke-width="0.8"/>
<polygon points="267.30,261.90 273.90,261.90 273.90,268.50 267.30,268.50" fill="#4a86f2" stroke="#2838c8" stroke-width="0.8"/>
<polygon points="292.40,232.40 296.77,235.58 295.10,240.72 289.70,240.72 288.03,235.58" fill="#2c5be8" stroke="#1a3ac8" stroke-width="0.7"/>
<polygon points="318.90,212.20 316.55,216.27 311.85,216.27 309.50,212.20 311.85,208.13 316.55,208.13" fill="#0a0a88" stroke="#1a2ab0" stroke-width="0.7"/>
<text x="286.3" y="307.8" font-size="9.0" font-weight="bold" fill="#f5161b" text-anchor="start" font-family='"Liberation Sans", sans-serif'  stroke="#f5161b" stroke-width="0.25">R<tspan font-size="6" dy="-3">2</tspan><tspan dy="3"> = 0.97</tspan></text>
<text transform="translate(212.9,249.6) rotate(-90)" font-size="9.4" font-weight="bold" text-anchor="middle" dominant-baseline="central" font-family='"Liberation Serif", serif' textLength="55" lengthAdjust="spacingAndGlyphs">Aspect Ratio</text>
<path transform="translate(212.6,249.0) rotate(-90)" d="M-35.2,-1.2 L-33.8,-2.0 L-32.0,3.2 L-29.2,-5.8 L28.4,-5.8" fill="none" stroke="#111" stroke-width="0.8"/>
<path d="M245.6,340.2 L247.2,339.2 L248.8,345.0 L252.0,334.4 L320.8,334.4" fill="none" stroke="#111" stroke-width="0.8"/>
<text x="252.4" y="343.4" font-size="9.0" font-weight="bold" fill="#000" text-anchor="start" font-family='"Liberation Sans", sans-serif' textLength="37.6" lengthAdjust="spacingAndGlyphs"  stroke="#000" stroke-width="0.25">Nick Time</text>
<text x="293.4" y="343.3" font-size="9.2" font-weight="bold" fill="#000" text-anchor="start" font-family='"Liberation Serif", serif' textLength="26.4" lengthAdjust="spacingAndGlyphs" >(min)</text>
<rect x="392.8" y="198.2" width="41.0" height="42.2" fill="#3a3833"/>
<rect x="392.8" y="198.2" width="41.0" height="42.2" fill="#000" filter="url(#spk)"/>
<rect x="392.8" y="258.9" width="41.0" height="58.8" fill="#3a3833"/>
<rect x="392.8" y="258.9" width="41.0" height="58.8" fill="#000" filter="url(#spk)"/>
<rect x="443.2" y="198.2" width="41.0" height="42.2" fill="#3a3833"/>
<rect x="443.2" y="198.2" width="41.0" height="42.2" fill="#000" filter="url(#spk)"/>
<rect x="443.2" y="258.9" width="41.0" height="58.8" fill="#3a3833"/>
<rect x="443.2" y="258.9" width="41.0" height="58.8" fill="#000" filter="url(#spk)"/>
<rect x="494.8" y="198.2" width="41.0" height="42.2" fill="#3a3833"/>
<rect x="494.8" y="198.2" width="41.0" height="42.2" fill="#000" filter="url(#spk)"/>
<rect x="494.8" y="258.9" width="41.0" height="58.8" fill="#3a3833"/>
<rect x="494.8" y="258.9" width="41.0" height="58.8" fill="#000" filter="url(#spk)"/>
<rect x="545.7" y="198.2" width="41.0" height="42.2" fill="#3a3833"/>
<rect x="545.7" y="198.2" width="41.0" height="42.2" fill="#000" filter="url(#spk)"/>
<rect x="545.7" y="258.9" width="41.0" height="58.8" fill="#3a3833"/>
<rect x="545.7" y="258.9" width="41.0" height="58.8" fill="#000" filter="url(#spk)"/>
<rect x="403.2" y="203.0" width="20.8" height="33.8" fill="#e4c893"/>
<path d="M403.2,203.0 L424.0,203.0 L424.0,208.3 L415.7,210.3 L409.4,208.8 L403.2,209.8 Z" fill="#f1e8d2"/>
<rect x="454.5" y="202.4" width="20.6" height="34.6" fill="#e4c893"/>
<path d="M454.5,202.4 L475.1,202.4 L475.1,207.7 L466.9,209.7 L460.7,208.2 L454.5,209.2 Z" fill="#f1e8d2"/>
<rect x="505.0" y="202.8" width="20.4" height="34.4" fill="#e4c893"/>
<path d="M505.0,202.8 L525.4,202.8 L525.4,211.1 L517.2,213.1 L511.1,211.6 L505.0,212.6 Z" fill="#f1e8d2"/>
<rect x="556.0" y="202.8" width="20.2" height="34.4" fill="#e4c893"/>
<path d="M556.0,202.8 L576.2,202.8 L576.2,208.9 L568.1,210.9 L562.1,209.4 L556.0,210.4 Z" fill="#f1e8d2"/>
<rect x="403.8" y="263.6" width="20.4" height="49.2" fill="#e1c48e"/>
<path d="M403.8,263.6 L424.2,263.6 L424.2,279.9 L416.0,281.9 L409.9,280.4 L403.8,281.4 Z" fill="#f1e8d2"/>
<rect x="454.3" y="263.6" width="20.7" height="49.7" fill="#e1c48e"/>
<path d="M454.3,263.6 L475.0,263.6 L475.0,278.9 L466.7,280.9 L460.5,279.4 L454.3,280.4 Z" fill="#f1e8d2"/>
<rect x="505.5" y="263.6" width="20.3" height="49.7" fill="#e1c48e"/>
<path d="M505.5,263.6 L525.8,263.6 L525.8,281.4 L517.7,283.4 L511.6,281.9 L505.5,282.9 Z" fill="#f1e8d2"/>
<rect x="556.2" y="263.6" width="20.8" height="49.7" fill="#e1c48e"/>
<path d="M556.2,263.6 L577.0,263.6 L577.0,280.0 L568.7,282.0 L562.4,280.5 L556.2,281.5 Z" fill="#f1e8d2"/>
<rect x="604.4" y="198.2" width="63.7" height="42.2" fill="#3a3833"/>
<rect x="604.4" y="198.2" width="63.7" height="42.2" fill="#000" filter="url(#spk)"/>
<rect x="604.4" y="258.9" width="63.7" height="58.8" fill="#3a3833"/>
<rect x="604.4" y="258.9" width="63.7" height="58.8" fill="#000" filter="url(#spk)"/>
<rect x="613.0" y="201.0" width="21.2" height="37.2" fill="#ddc9a1"/>
<path d="M613,201 L634.2,201 L634.2,207.5 L625,206.2 L613,206.8 Z" fill="#efe4cc"/>
<rect x="638.2" y="202.0" width="22.3" height="36.2" fill="#dcc8a0"/>
<path d="M638.2,202 L660.5,202 L660.5,211.6 L650,211 L638.2,209.2 Z" fill="#efe4cc"/>
<rect x="612.7" y="263.6" width="22.2" height="49.7" fill="#c5aa7d"/>
<path d="M612.7,263.6 L634.9,263.6 L634.9,283.4 L628,284.8 L620,282.6 L612.7,284.4 Z" fill="#ede3cc"/>
<rect x="637.4" y="263.6" width="21.5" height="49.2" fill="#c3a87b"/>
<path d="M637.4,263.6 L658.9,263.6 L658.9,282.6 L650,284.6 L643,282.2 L637.4,284.2 Z" fill="#ede3cc"/>
<polyline points="622.5,224.4 625.9,226.7 626.0,229.6 623.4,232.2" fill="none" stroke="#8d7552" stroke-width="0.45" opacity="0.8"/>
<polyline points="626.2,231.6 623.0,233.1 619.7,237.1 621.3,237.4" fill="none" stroke="#8d7552" stroke-width="0.45" opacity="0.8"/>
<polyline points="633.6,236.9 634.0,238.0 631.3,238.0 631.5,238.0" fill="none" stroke="#8d7552" stroke-width="0.45" opacity="0.8"/>
<polyline points="617.0,214.5 613.2,216.8 613.0,221.0 613.2,224.2" fill="none" stroke="#8d7552" stroke-width="0.45" opacity="0.8"/>
<polyline points="623.5,227.5 623.2,228.9 627.1,233.9 629.9,237.4" fill="none" stroke="#8d7552" stroke-width="0.45" opacity="0.8"/>
<polyline points="645.1,217.2 643.4,217.6 645.6,219.6 648.4,221.5" fill="none" stroke="#8d7552" stroke-width="0.45" opacity="0.8"/>
<polyline points="659.3,233.9 655.3,234.9 658.6,237.3 660.2,238.0" fill="none" stroke="#8d7552" stroke-width="0.45" opacity="0.8"/>
<polyline points="639.8,228.0 642.0,229.3 638.7,231.0 642.4,234.8" fill="none" stroke="#8d7552" stroke-width="0.45" opacity="0.8"/>
<polyline points="640.8,217.7 638.2,218.0 640.6,218.8 641.1,221.1" fill="none" stroke="#8d7552" stroke-width="0.45" opacity="0.8"/>
<polyline points="642.4,230.8 639.4,234.0 638.2,236.1 638.2,237.4" fill="none" stroke="#8d7552" stroke-width="0.45" opacity="0.8"/>
<polyline points="634.1,307.3 632.5,311.7 630.2,313.0 633.0,313.0" fill="none" stroke="#8d7552" stroke-width="0.45" opacity="0.8"/>
<polyline points="614.9,312.7 612.7,313.0 614.9,313.0 613.3,313.0" fill="none" stroke="#8d7552" stroke-width="0.45" opacity="0.8"/>
<polyline points="614.7,300.9 612.7,303.9 612.7,306.2 616.4,308.6" fill="none" stroke="#8d7552" stroke-width="0.45" opacity="0.8"/>
<polyline points="625.3,309.1 622.8,309.9 626.1,313.0 624.1,313.0" fill="none" stroke="#8d7552" stroke-width="0.45" opacity="0.8"/>
<polyline points="629.0,311.3 626.5,313.0 629.6,313.0 629.0,313.0" fill="none" stroke="#8d7552" stroke-width="0.45" opacity="0.8"/>
<polyline points="638.2,311.9 637.4,313.0 637.4,313.0 638.2,313.0" fill="none" stroke="#8d7552" stroke-width="0.45" opacity="0.8"/>
<polyline points="641.2,304.9 637.7,306.0 638.2,310.3 639.1,311.7" fill="none" stroke="#8d7552" stroke-width="0.45" opacity="0.8"/>
<polyline points="657.1,289.9 653.3,291.3 652.8,291.6 650.2,293.4" fill="none" stroke="#8d7552" stroke-width="0.45" opacity="0.8"/>
<polyline points="649.7,287.8 648.6,292.3 652.4,295.6 654.0,298.5" fill="none" stroke="#8d7552" stroke-width="0.45" opacity="0.8"/>
<polyline points="640.4,285.0 637.4,289.6 639.0,294.4 637.4,297.6" fill="none" stroke="#8d7552" stroke-width="0.45" opacity="0.8"/>
<text x="414.0" y="193.9" font-size="9.4" font-weight="bold" fill="#1d3cf5" text-anchor="middle" font-family='"Liberation Sans", sans-serif' textLength="24.6" lengthAdjust="spacingAndGlyphs"  stroke="#1d3cf5" stroke-width="0.25">Face 1</text>
<text x="464.6" y="193.9" font-size="9.4" font-weight="bold" fill="#1d3cf5" text-anchor="middle" font-family='"Liberation Sans", sans-serif' textLength="24.6" lengthAdjust="spacingAndGlyphs"  stroke="#1d3cf5" stroke-width="0.25">Face 2</text>
<text x="516.0" y="193.9" font-size="9.4" font-weight="bold" fill="#1d3cf5" text-anchor="middle" font-family='"Liberation Sans", sans-serif' textLength="24.6" lengthAdjust="spacingAndGlyphs"  stroke="#1d3cf5" stroke-width="0.25">Face 3</text>
<text x="566.4" y="193.9" font-size="9.4" font-weight="bold" fill="#1d3cf5" text-anchor="middle" font-family='"Liberation Sans", sans-serif' textLength="24.6" lengthAdjust="spacingAndGlyphs"  stroke="#1d3cf5" stroke-width="0.25">Face 4</text>
<text x="637.5" y="194.2" font-size="9.4" font-weight="bold" fill="#1d3cf5" text-anchor="middle" font-family='"Liberation Sans", sans-serif' textLength="41.6" lengthAdjust="spacingAndGlyphs"  stroke="#1d3cf5" stroke-width="0.25">Split Faces</text>
<text x="416.5" y="250.8" font-size="9.0" font-weight="bold" fill="#111" text-anchor="middle" font-family='"Liberation Sans", sans-serif' textLength="18" lengthAdjust="spacingAndGlyphs"  stroke="#111" stroke-width="0.25">81 %</text>
<text x="466.4" y="250.8" font-size="9.0" font-weight="bold" fill="#111" text-anchor="middle" font-family='"Liberation Sans", sans-serif' textLength="18" lengthAdjust="spacingAndGlyphs"  stroke="#111" stroke-width="0.25">83 %</text>
<text x="516.8" y="250.8" font-size="9.0" font-weight="bold" fill="#111" text-anchor="middle" font-family='"Liberation Sans", sans-serif' textLength="18" lengthAdjust="spacingAndGlyphs"  stroke="#111" stroke-width="0.25">77 %</text>
<text x="567.2" y="250.8" font-size="9.0" font-weight="bold" fill="#111" text-anchor="middle" font-family='"Liberation Sans", sans-serif' textLength="18" lengthAdjust="spacingAndGlyphs"  stroke="#111" stroke-width="0.25">80 %</text>
<text x="640.1" y="250.8" font-size="9.0" font-weight="bold" fill="#111" text-anchor="middle" font-family='"Liberation Sans", sans-serif' textLength="18" lengthAdjust="spacingAndGlyphs"  stroke="#111" stroke-width="0.25">80 %</text>
<text x="417.3" y="328.9" font-size="9.0" font-weight="bold" fill="#111" text-anchor="middle" font-family='"Liberation Sans", sans-serif' textLength="18" lengthAdjust="spacingAndGlyphs"  stroke="#111" stroke-width="0.25">64 %</text>
<text x="467.2" y="328.9" font-size="9.0" font-weight="bold" fill="#111" text-anchor="middle" font-family='"Liberation Sans", sans-serif' textLength="18" lengthAdjust="spacingAndGlyphs"  stroke="#111" stroke-width="0.25">65 %</text>
<text x="518.3" y="328.9" font-size="9.0" font-weight="bold" fill="#111" text-anchor="middle" font-family='"Liberation Sans", sans-serif' textLength="18" lengthAdjust="spacingAndGlyphs"  stroke="#111" stroke-width="0.25">64 %</text>
<text x="568.4" y="328.9" font-size="9.0" font-weight="bold" fill="#111" text-anchor="middle" font-family='"Liberation Sans", sans-serif' textLength="18" lengthAdjust="spacingAndGlyphs"  stroke="#111" stroke-width="0.25">64 %</text>
<text x="641.2" y="328.9" font-size="9.0" font-weight="bold" fill="#111" text-anchor="middle" font-family='"Liberation Sans", sans-serif' textLength="18" lengthAdjust="spacingAndGlyphs"  stroke="#111" stroke-width="0.25">62 %</text>
<text x="360.8" y="328.9" font-size="9.0" font-weight="bold" fill="#111" text-anchor="start" font-family='"Liberation Sans", sans-serif' textLength="27.2" lengthAdjust="spacingAndGlyphs"  stroke="#111" stroke-width="0.25">Area R.</text>
<line x1="390.5" y1="325.6" x2="400.2" y2="325.6" stroke="#111" stroke-width="0.7"/>
<polygon points="401.6,325.6 398.2,324.0 398.2,327.2" fill="#111"/>
<text stroke="#1d3cf5" stroke-width="0.22" transform="translate(377.8,220.2) rotate(-90)" font-size="9.4" font-weight="bold" fill="#1d3cf5" text-anchor="middle" dominant-baseline="central" font-family='"Liberation Sans", sans-serif' textLength="49.2" lengthAdjust="spacingAndGlyphs">Asp. R. = 1.5</text>
<text stroke="#1d3cf5" stroke-width="0.22" transform="translate(377.8,286.0) rotate(-90)" font-size="9.4" font-weight="bold" fill="#1d3cf5" text-anchor="middle" dominant-baseline="central" font-family='"Liberation Sans", sans-serif' textLength="50.0" lengthAdjust="spacingAndGlyphs">Asp. R. = 2.5</text>
<text stroke="#f5161b" stroke-width="0.22" transform="translate(679.9,219.7) rotate(-90)" font-size="9.4" font-weight="bold" fill="#f5161b" text-anchor="middle" dominant-baseline="central" font-family='"Liberation Sans", sans-serif' textLength="50.6" lengthAdjust="spacingAndGlyphs">Error =&#160;&#160;0.3 %</text>
<text stroke="#f5161b" stroke-width="0.22" transform="translate(680.0,288.4) rotate(-90)" font-size="9.4" font-weight="bold" fill="#f5161b" text-anchor="middle" dominant-baseline="central" font-family='"Liberation Sans", sans-serif' textLength="52.0" lengthAdjust="spacingAndGlyphs">Error =&#160;&#160;3.2 %</text>
<polygon points="84.80,464.50 89.93,462.38 88.72,460.58 84.80,464.50" fill="#6c1f8d" stroke="#6c1f8d" stroke-width="0.25"/>
<polygon points="89.93,462.38 95.06,460.25 92.65,456.65 88.72,460.58" fill="#6c1f8d" stroke="#6c1f8d" stroke-width="0.25"/>
<polygon points="95.06,460.25 100.18,458.13 96.57,452.73 92.65,456.65" fill="#a02e88" stroke="#a02e88" stroke-width="0.25"/>
<polygon points="100.18,458.13 105.31,456.00 100.50,448.80 96.57,452.73" fill="#d03c77" stroke="#d03c77" stroke-width="0.25"/>
<polygon points="105.31,456.00 110.44,453.88 104.42,444.88 100.50,448.80" fill="#d03c77" stroke="#d03c77" stroke-width="0.25"/>
<polygon points="110.44,453.88 115.57,451.76 108.35,440.95 104.42,444.88" fill="#fb815c" stroke="#fb815c" stroke-width="0.25"/>
<polygon points="115.57,451.76 120.69,449.63 112.27,437.03 108.35,440.95" fill="#f4625f" stroke="#f4625f" stroke-width="0.25"/>
<polygon points="120.69,449.63 125.82,447.51 116.20,433.10 112.27,437.03" fill="#f8f5b0" stroke="#f8f5b0" stroke-width="0.25"/>
<polygon points="125.82,447.51 130.95,445.38 120.12,429.18 116.20,433.10" fill="#f8f5b0" stroke="#f8f5b0" stroke-width="0.25"/>
<polygon points="84.80,464.50 88.72,460.58 86.92,459.37 84.80,464.50" fill="#6c1f8d" stroke="#6c1f8d" stroke-width="0.25"/>
<polygon points="88.72,460.58 92.65,456.65 89.05,454.24 86.92,459.37" fill="#a02e88" stroke="#a02e88" stroke-width="0.25"/>
<polygon points="92.65,456.65 96.57,452.73 91.17,449.12 89.05,454.24" fill="#a02e88" stroke="#a02e88" stroke-width="0.25"/>
<polygon points="96.57,452.73 100.50,448.80 93.30,443.99 91.17,449.12" fill="#d03c77" stroke="#d03c77" stroke-width="0.25"/>
<polygon points="100.50,448.80 104.42,444.88 95.42,438.86 93.30,443.99" fill="#d03c77" stroke="#d03c77" stroke-width="0.25"/>
<polygon points="104.42,444.88 108.35,440.95 97.54,433.73 95.42,438.86" fill="#e84b6b" stroke="#e84b6b" stroke-width="0.25"/>
<polygon points="108.35,440.95 112.27,437.03 99.67,428.61 97.54,433.73" fill="#f4625f" stroke="#f4625f" stroke-width="0.25"/>
<polygon points="112.27,437.03 116.20,433.10 101.79,423.48 99.67,428.61" fill="#f4625f" stroke="#f4625f" stroke-width="0.25"/>
<polygon points="120.12,429.18 124.04,425.26 106.04,413.22 103.92,418.35" fill="#f8f5b0" stroke="#f8f5b0" stroke-width="0.25"/>
<polygon points="84.80,464.50 86.92,459.37 84.80,458.95 84.80,464.50" fill="#6c1f8d" stroke="#6c1f8d" stroke-width="0.25"/>
<polygon points="86.92,459.37 89.05,454.24 84.80,453.40 84.80,458.95" fill="#a02e88" stroke="#a02e88" stroke-width="0.25"/>
<polygon points="89.05,454.24 91.17,449.12 84.80,447.85 84.80,453.40" fill="#a02e88" stroke="#a02e88" stroke-width="0.25"/>
<polygon points="91.17,449.12 93.30,443.99 84.80,442.30 84.80,447.85" fill="#f4625f" stroke="#f4625f" stroke-width="0.25"/>
<polygon points="93.30,443.99 95.42,438.86 84.80,436.75 84.80,442.30" fill="#e84b6b" stroke="#e84b6b" stroke-width="0.25"/>
<polygon points="95.42,438.86 97.54,433.73 84.80,431.20 84.80,436.75" fill="#e84b6b" stroke="#e84b6b" stroke-width="0.25"/>
<polygon points="97.54,433.73 99.67,428.61 84.80,425.65 84.80,431.20" fill="#e84b6b" stroke="#e84b6b" stroke-width="0.25"/>
<polygon points="99.67,428.61 101.79,423.48 84.80,420.10 84.80,425.65" fill="#fb815c" stroke="#fb815c" stroke-width="0.25"/>
<polygon points="101.79,423.48 103.92,418.35 84.80,414.55 84.80,420.10" fill="#f4625f" stroke="#f4625f" stroke-width="0.25"/>
<polygon points="103.92,418.35 106.04,413.22 84.80,409.00 84.80,414.55" fill="#f4625f" stroke="#f4625f" stroke-width="0.25"/>
<polygon points="84.80,464.50 84.80,458.95 82.68,459.37 84.80,464.50" fill="#fb815c" stroke="#fb815c" stroke-width="0.25"/>
<polygon points="84.80,458.95 84.80,453.40 80.55,454.24 82.68,459.37" fill="#e84b6b" stroke="#e84b6b" stroke-width="0.25"/>
<polygon points="84.80,453.40 84.80,447.85 78.43,449.12 80.55,454.24" fill="#a02e88" stroke="#a02e88" stroke-width="0.25"/>
<polygon points="84.80,447.85 84.80,442.30 76.30,443.99 78.43,449.12" fill="#a02e88" stroke="#a02e88" stroke-width="0.25"/>
<polygon points="84.80,442.30 84.80,436.75 74.18,438.86 76.30,443.99" fill="#e84b6b" stroke="#e84b6b" stroke-width="0.25"/>
<polygon points="84.80,436.75 84.80,431.20 72.06,433.73 74.18,438.86" fill="#e84b6b" stroke="#e84b6b" stroke-width="0.25"/>
<polygon points="84.80,431.20 84.80,425.65 69.93,428.61 72.06,433.73" fill="#e84b6b" stroke="#e84b6b" stroke-width="0.25"/>
<polygon points="84.80,425.65 84.80,420.10 67.81,423.48 69.93,428.61" fill="#fb815c" stroke="#fb815c" stroke-width="0.25"/>
<polygon points="84.80,420.10 84.80,414.55 65.68,418.35 67.81,423.48" fill="#f4625f" stroke="#f4625f" stroke-width="0.25"/>
<polygon points="82.68,459.37 80.55,454.24 76.95,456.65 80.88,460.58" fill="#e84b6b" stroke="#e84b6b" stroke-width="0.25"/>
<polygon points="80.55,454.24 78.43,449.12 73.03,452.73 76.95,456.65" fill="#d03c77" stroke="#d03c77" stroke-width="0.25"/>
<polygon points="78.43,449.12 76.30,443.99 69.10,448.80 73.03,452.73" fill="#a02e88" stroke="#a02e88" stroke-width="0.25"/>
<polygon points="76.30,443.99 74.18,438.86 65.18,444.88 69.10,448.80" fill="#f4625f" stroke="#f4625f" stroke-width="0.25"/>
<polygon points="74.18,438.86 72.06,433.73 61.25,440.95 65.18,444.88" fill="#f4625f" stroke="#f4625f" stroke-width="0.25"/>
<polygon points="72.06,433.73 69.93,428.61 57.33,437.03 61.25,440.95" fill="#d03c77" stroke="#d03c77" stroke-width="0.25"/>
<polygon points="69.93,428.61 67.81,423.48 53.40,433.10 57.33,437.03" fill="#fb815c" stroke="#fb815c" stroke-width="0.25"/>
<polygon points="67.81,423.48 65.68,418.35 49.48,429.18 53.40,433.10" fill="#f4625f" stroke="#f4625f" stroke-width="0.25"/>
<polygon points="65.68,418.35 63.56,413.22 45.56,425.26 49.48,429.18" fill="#fdb47b" stroke="#fdb47b" stroke-width="0.25"/>
<polygon points="80.88,460.58 76.95,456.65 74.54,460.25 79.67,462.38" fill="#f4625f" stroke="#f4625f" stroke-width="0.25"/>
<polygon points="76.95,456.65 73.03,452.73 69.42,458.13 74.54,460.25" fill="#fb815c" stroke="#fb815c" stroke-width="0.25"/>
<polygon points="73.03,452.73 69.10,448.80 64.29,456.00 69.42,458.13" fill="#a02e88" stroke="#a02e88" stroke-width="0.25"/>
<polygon points="69.10,448.80 65.18,444.88 59.16,453.88 64.29,456.00" fill="#d03c77" stroke="#d03c77" stroke-width="0.25"/>
<polygon points="65.18,444.88 61.25,440.95 54.03,451.76 59.16,453.88" fill="#f4625f" stroke="#f4625f" stroke-width="0.25"/>
<polygon points="61.25,440.95 57.33,437.03 48.91,449.63 54.03,451.76" fill="#fb815c" stroke="#fb815c" stroke-width="0.25"/>
<polygon points="57.33,437.03 53.40,433.10 43.78,447.51 48.91,449.63" fill="#f4625f" stroke="#f4625f" stroke-width="0.25"/>
<polygon points="53.40,433.10 49.48,429.18 38.65,445.38 43.78,447.51" fill="#d03c77" stroke="#d03c77" stroke-width="0.25"/>
<polygon points="49.48,429.18 45.56,425.26 33.52,443.26 38.65,445.38" fill="#f8f5b0" stroke="#f8f5b0" stroke-width="0.25"/>
<polygon points="79.67,462.38 74.54,460.25 73.70,464.50 79.25,464.50" fill="#f4625f" stroke="#f4625f" stroke-width="0.25"/>
<polygon points="74.54,460.25 69.42,458.13 68.15,464.50 73.70,464.50" fill="#f4625f" stroke="#f4625f" stroke-width="0.25"/>
<polygon points="69.42,458.13 64.29,456.00 62.60,464.50 68.15,464.50" fill="#f8f5b0" stroke="#f8f5b0" stroke-width="0.25"/>
<polygon points="64.29,456.00 59.16,453.88 57.05,464.50 62.60,464.50" fill="#d03c77" stroke="#d03c77" stroke-width="0.25"/>
<polygon points="59.16,453.88 54.03,451.76 51.50,464.50 57.05,464.50" fill="#e84b6b" stroke="#e84b6b" stroke-width="0.25"/>
<polygon points="54.03,451.76 48.91,449.63 45.95,464.50 51.50,464.50" fill="#f4625f" stroke="#f4625f" stroke-width="0.25"/>
<polygon points="48.91,449.63 43.78,447.51 40.40,464.50 45.95,464.50" fill="#fb815c" stroke="#fb815c" stroke-width="0.25"/>
<polygon points="43.78,447.51 38.65,445.38 34.85,464.50 40.40,464.50" fill="#f4625f" stroke="#f4625f" stroke-width="0.25"/>
<polygon points="79.25,464.50 73.70,464.50 74.54,468.75 79.67,466.62" fill="#f4625f" stroke="#f4625f" stroke-width="0.25"/>
<polygon points="73.70,464.50 68.15,464.50 69.42,470.87 74.54,468.75" fill="#f4625f" stroke="#f4625f" stroke-width="0.25"/>
<polygon points="68.15,464.50 62.60,464.50 64.29,473.00 69.42,470.87" fill="#fdb47b" stroke="#fdb47b" stroke-width="0.25"/>
<polygon points="62.60,464.50 57.05,464.50 59.16,475.12 64.29,473.00" fill="#d03c77" stroke="#d03c77" stroke-width="0.25"/>
<polygon points="57.05,464.50 51.50,464.50 54.03,477.24 59.16,475.12" fill="#f4625f" stroke="#f4625f" stroke-width="0.25"/>
<polygon points="51.50,464.50 45.95,464.50 48.91,479.37 54.03,477.24" fill="#d03c77" stroke="#d03c77" stroke-width="0.25"/>
<polygon points="45.95,464.50 40.40,464.50 43.78,481.49 48.91,479.37" fill="#f4625f" stroke="#f4625f" stroke-width="0.25"/>
<polygon points="40.40,464.50 34.85,464.50 38.65,483.62 43.78,481.49" fill="#f4625f" stroke="#f4625f" stroke-width="0.25"/>
<polygon points="34.85,464.50 29.30,464.50 33.52,485.74 38.65,483.62" fill="#fdb47b" stroke="#fdb47b" stroke-width="0.25"/>
<polygon points="79.67,466.62 74.54,468.75 76.95,472.35 80.88,468.42" fill="#f4625f" stroke="#f4625f" stroke-width="0.25"/>
<polygon points="74.54,468.75 69.42,470.87 73.03,476.27 76.95,472.35" fill="#f4625f" stroke="#f4625f" stroke-width="0.25"/>
<polygon points="69.42,470.87 64.29,473.00 69.10,480.20 73.03,476.27" fill="#fdb47b" stroke="#fdb47b" stroke-width="0.25"/>
<polygon points="64.29,473.00 59.16,475.12 65.18,484.12 69.10,480.20" fill="#fdb47b" stroke="#fdb47b" stroke-width="0.25"/>
<polygon points="59.16,475.12 54.03,477.24 61.25,488.05 65.18,484.12" fill="#a02e88" stroke="#a02e88" stroke-width="0.25"/>
<polygon points="54.03,477.24 48.91,479.37 57.33,491.97 61.25,488.05" fill="#f4625f" stroke="#f4625f" stroke-width="0.25"/>
<polygon points="48.91,479.37 43.78,481.49 53.40,495.90 57.33,491.97" fill="#d03c77" stroke="#d03c77" stroke-width="0.25"/>
<polygon points="43.78,481.49 38.65,483.62 49.48,499.82 53.40,495.90" fill="#fb815c" stroke="#fb815c" stroke-width="0.25"/>
<polygon points="38.65,483.62 33.52,485.74 45.56,503.74 49.48,499.82" fill="#f8f5b0" stroke="#f8f5b0" stroke-width="0.25"/>
<polygon points="80.88,468.42 76.95,472.35 80.55,474.76 82.68,469.63" fill="#fb815c" stroke="#fb815c" stroke-width="0.25"/>
<polygon points="76.95,472.35 73.03,476.27 78.43,479.88 80.55,474.76" fill="#f4625f" stroke="#f4625f" stroke-width="0.25"/>
<polygon points="73.03,476.27 69.10,480.20 76.30,485.01 78.43,479.88" fill="#fdb47b" stroke="#fdb47b" stroke-width="0.25"/>
<polygon points="65.18,484.12 61.25,488.05 72.06,495.27 74.18,490.14" fill="#d03c77" stroke="#d03c77" stroke-width="0.25"/>
<polygon points="61.25,488.05 57.33,491.97 69.93,500.39 72.06,495.27" fill="#fb815c" stroke="#fb815c" stroke-width="0.25"/>
<polygon points="57.33,491.97 53.40,495.90 67.81,505.52 69.93,500.39" fill="#f4625f" stroke="#f4625f" stroke-width="0.25"/>
<polygon points="53.40,495.90 49.48,499.82 65.68,510.65 67.81,505.52" fill="#d03c77" stroke="#d03c77" stroke-width="0.25"/>
<polygon points="49.48,499.82 45.56,503.74 63.56,515.78 65.68,510.65" fill="#fdb47b" stroke="#fdb47b" stroke-width="0.25"/>
<polygon points="82.68,469.63 80.55,474.76 84.80,475.60 84.80,470.05" fill="#fdb47b" stroke="#fdb47b" stroke-width="0.25"/>
<polygon points="80.55,474.76 78.43,479.88 84.80,481.15 84.80,475.60" fill="#fb815c" stroke="#fb815c" stroke-width="0.25"/>
<polygon points="78.43,479.88 76.30,485.01 84.80,486.70 84.80,481.15" fill="#fb815c" stroke="#fb815c" stroke-width="0.25"/>
<polygon points="76.30,485.01 74.18,490.14 84.80,492.25 84.80,486.70" fill="#f8f5b0" stroke="#f8f5b0" stroke-width="0.25"/>
<polygon points="74.18,490.14 72.06,495.27 84.80,497.80 84.80,492.25" fill="#fdb47b" stroke="#fdb47b" stroke-width="0.25"/>
<polygon points="72.06,495.27 69.93,500.39 84.80,503.35 84.80,497.80" fill="#d03c77" stroke="#d03c77" stroke-width="0.25"/>
<polygon points="69.93,500.39 67.81,505.52 84.80,508.90 84.80,503.35" fill="#f8f5b0" stroke="#f8f5b0" stroke-width="0.25"/>
<polygon points="67.81,505.52 65.68,510.65 84.80,514.45 84.80,508.90" fill="#e84b6b" stroke="#e84b6b" stroke-width="0.25"/>
<polygon points="65.68,510.65 63.56,515.78 84.80,520.00 84.80,514.45" fill="#fb815c" stroke="#fb815c" stroke-width="0.25"/>
<polygon points="84.80,470.05 84.80,475.60 89.05,474.76 86.92,469.63" fill="#fb815c" stroke="#fb815c" stroke-width="0.25"/>
<polygon points="84.80,475.60 84.80,481.15 91.17,479.88 89.05,474.76" fill="#f4625f" stroke="#f4625f" stroke-width="0.25"/>
<polygon points="84.80,481.15 84.80,486.70 93.30,485.01 91.17,479.88" fill="#fb815c" stroke="#fb815c" stroke-width="0.25"/>
<polygon points="84.80,486.70 84.80,492.25 95.42,490.14 93.30,485.01" fill="#fb815c" stroke="#fb815c" stroke-width="0.25"/>
<polygon points="84.80,497.80 84.80,503.35 99.67,500.39 97.54,495.27" fill="#e84b6b" stroke="#e84b6b" stroke-width="0.25"/>
<polygon points="84.80,503.35 84.80,508.90 101.79,505.52 99.67,500.39" fill="#d03c77" stroke="#d03c77" stroke-width="0.25"/>
<polygon points="84.80,508.90 84.80,514.45 103.92,510.65 101.79,505.52" fill="#f8f5b0" stroke="#f8f5b0" stroke-width="0.25"/>
<polygon points="84.80,514.45 84.80,520.00 106.04,515.78 103.92,510.65" fill="#f4625f" stroke="#f4625f" stroke-width="0.25"/>
<polygon points="86.92,469.63 89.05,474.76 92.65,472.35 88.72,468.42" fill="#fb815c" stroke="#fb815c" stroke-width="0.25"/>
<polygon points="89.05,474.76 91.17,479.88 96.57,476.27 92.65,472.35" fill="#f4625f" stroke="#f4625f" stroke-width="0.25"/>
<polygon points="91.17,479.88 93.30,485.01 100.50,480.20 96.57,476.27" fill="#f8f5b0" stroke="#f8f5b0" stroke-width="0.25"/>
<polygon points="93.30,485.01 95.42,490.14 104.42,484.12 100.50,480.20" fill="#fb815c" stroke="#fb815c" stroke-width="0.25"/>
<polygon points="95.42,490.14 97.54,495.27 108.35,488.05 104.42,484.12" fill="#f8f5b0" stroke="#f8f5b0" stroke-width="0.25"/>
<polygon points="97.54,495.27 99.67,500.39 112.27,491.97 108.35,488.05" fill="#fdb47b" stroke="#fdb47b" stroke-width="0.25"/>
<polygon points="99.67,500.39 101.79,505.52 116.20,495.90 112.27,491.97" fill="#e84b6b" stroke="#e84b6b" stroke-width="0.25"/>
<polygon points="101.79,505.52 103.92,510.65 120.12,499.82 116.20,495.90" fill="#fb815c" stroke="#fb815c" stroke-width="0.25"/>
<polygon points="103.92,510.65 106.04,515.78 124.04,503.74 120.12,499.82" fill="#f8f5b0" stroke="#f8f5b0" stroke-width="0.25"/>
<polygon points="92.65,472.35 96.57,476.27 100.18,470.87 95.06,468.75" fill="#f4625f" stroke="#f4625f" stroke-width="0.25"/>
<polygon points="96.57,476.27 100.50,480.20 105.31,473.00 100.18,470.87" fill="#fdb47b" stroke="#fdb47b" stroke-width="0.25"/>
<polygon points="100.50,480.20 104.42,484.12 110.44,475.12 105.31,473.00" fill="#fb815c" stroke="#fb815c" stroke-width="0.25"/>
<polygon points="104.42,484.12 108.35,488.05 115.57,477.24 110.44,475.12" fill="#fdb47b" stroke="#fdb47b" stroke-width="0.25"/>
<polygon points="116.20,495.90 120.12,499.82 130.95,483.62 125.82,481.49" fill="#f4625f" stroke="#f4625f" stroke-width="0.25"/>
<polygon points="120.12,499.82 124.04,503.74 136.08,485.74 130.95,483.62" fill="#f8f5b0" stroke="#f8f5b0" stroke-width="0.25"/>
<polygon points="95.06,468.75 100.18,470.87 101.45,464.50 95.90,464.50" fill="#fdb47b" stroke="#fdb47b" stroke-width="0.25"/>
<polygon points="100.18,470.87 105.31,473.00 107.00,464.50 101.45,464.50" fill="#f4625f" stroke="#f4625f" stroke-width="0.25"/>
<polygon points="110.44,475.12 115.57,477.24 118.10,464.50 112.55,464.50" fill="#d03c77" stroke="#d03c77" stroke-width="0.25"/>
<polygon points="120.69,479.37 125.82,481.49 129.20,464.50 123.65,464.50" fill="#f8f5b0" stroke="#f8f5b0" stroke-width="0.25"/>
<polygon points="125.82,481.49 130.95,483.62 134.75,464.50 129.20,464.50" fill="#f4625f" stroke="#f4625f" stroke-width="0.25"/>
<polygon points="130.95,483.62 136.08,485.74 140.30,464.50 134.75,464.50" fill="#f8f5b0" stroke="#f8f5b0" stroke-width="0.25"/>
<circle cx="84.8" cy="464.5" r="5.55" fill="none" stroke="#333" stroke-width="0.45" stroke-dasharray="1.3,1.0" opacity="0.8"/>
<circle cx="84.8" cy="464.5" r="11.10" fill="none" stroke="#333" stroke-width="0.45" stroke-dasharray="1.3,1.0" opacity="0.8"/>
<circle cx="84.8" cy="464.5" r="16.65" fill="none" stroke="#333" stroke-width="0.45" stroke-dasharray="1.3,1.0" opacity="0.8"/>
<circle cx="84.8" cy="464.5" r="22.20" fill="none" stroke="#333" stroke-width="0.45" stroke-dasharray="1.3,1.0" opacity="0.8"/>
<circle cx="84.8" cy="464.5" r="27.75" fill="none" stroke="#333" stroke-width="0.45" stroke-dasharray="1.3,1.0" opacity="0.8"/>
<circle cx="84.8" cy="464.5" r="33.30" fill="none" stroke="#333" stroke-width="0.45" stroke-dasharray="1.3,1.0" opacity="0.8"/>
<circle cx="84.8" cy="464.5" r="38.85" fill="none" stroke="#333" stroke-width="0.45" stroke-dasharray="1.3,1.0" opacity="0.8"/>
<circle cx="84.8" cy="464.5" r="44.40" fill="none" stroke="#333" stroke-width="0.45" stroke-dasharray="1.3,1.0" opacity="0.8"/>
<circle cx="84.8" cy="464.5" r="49.95" fill="none" stroke="#333" stroke-width="0.45" stroke-dasharray="1.3,1.0" opacity="0.8"/>
<line x1="84.80" y1="464.50" x2="140.30" y2="464.50" stroke="#333" stroke-width="0.45" stroke-dasharray="1.3,1.0" opacity="0.8"/>
<line x1="84.80" y1="464.50" x2="139.23" y2="453.67" stroke="#333" stroke-width="0.45" stroke-dasharray="1.3,1.0" opacity="0.8"/>
<line x1="84.80" y1="464.50" x2="136.08" y2="443.26" stroke="#333" stroke-width="0.45" stroke-dasharray="1.3,1.0" opacity="0.8"/>
<line x1="84.80" y1="464.50" x2="130.95" y2="433.67" stroke="#333" stroke-width="0.45" stroke-dasharray="1.3,1.0" opacity="0.8"/>
<line x1="84.80" y1="464.50" x2="124.04" y2="425.26" stroke="#333" stroke-width="0.45" stroke-dasharray="1.3,1.0" opacity="0.8"/>
<line x1="84.80" y1="464.50" x2="115.63" y2="418.35" stroke="#333" stroke-width="0.45" stroke-dasharray="1.3,1.0" opacity="0.8"/>
<line x1="84.80" y1="464.50" x2="106.04" y2="413.22" stroke="#333" stroke-width="0.45" stroke-dasharray="1.3,1.0" opacity="0.8"/>
<line x1="84.80" y1="464.50" x2="95.63" y2="410.07" stroke="#333" stroke-width="0.45" stroke-dasharray="1.3,1.0" opacity="0.8"/>
<line x1="84.80" y1="464.50" x2="84.80" y2="409.00" stroke="#333" stroke-width="0.45" stroke-dasharray="1.3,1.0" opacity="0.8"/>
<line x1="84.80" y1="464.50" x2="73.97" y2="410.07" stroke="#333" stroke-width="0.45" stroke-dasharray="1.3,1.0" opacity="0.8"/>
<line x1="84.80" y1="464.50" x2="63.56" y2="413.22" stroke="#333" stroke-width="0.45" stroke-dasharray="1.3,1.0" opacity="0.8"/>
<line x1="84.80" y1="464.50" x2="53.97" y2="418.35" stroke="#333" stroke-width="0.45" stroke-dasharray="1.3,1.0" opacity="0.8"/>
<line x1="84.80" y1="464.50" x2="45.56" y2="425.26" stroke="#333" stroke-width="0.45" stroke-dasharray="1.3,1.0" opacity="0.8"/>
<line x1="84.80" y1="464.50" x2="38.65" y2="433.67" stroke="#333" stroke-width="0.45" stroke-dasharray="1.3,1.0" opacity="0.8"/>
<line x1="84.80" y1="464.50" x2="33.52" y2="443.26" stroke="#333" stroke-width="0.45" stroke-dasharray="1.3,1.0" opacity="0.8"/>
<line x1="84.80" y1="464.50" x2="30.37" y2="453.67" stroke="#333" stroke-width="0.45" stroke-dasharray="1.3,1.0" opacity="0.8"/>
<line x1="84.80" y1="464.50" x2="29.30" y2="464.50" stroke="#333" stroke-width="0.45" stroke-dasharray="1.3,1.0" opacity="0.8"/>
<line x1="84.80" y1="464.50" x2="30.37" y2="475.33" stroke="#333" stroke-width="0.45" stroke-dasharray="1.3,1.0" opacity="0.8"/>
<line x1="84.80" y1="464.50" x2="33.52" y2="485.74" stroke="#333" stroke-width="0.45" stroke-dasharray="1.3,1.0" opacity="0.8"/>
<line x1="84.80" y1="464.50" x2="38.65" y2="495.33" stroke="#333" stroke-width="0.45" stroke-dasharray="1.3,1.0" opacity="0.8"/>
<line x1="84.80" y1="464.50" x2="45.56" y2="503.74" stroke="#333" stroke-width="0.45" stroke-dasharray="1.3,1.0" opacity="0.8"/>
<line x1="84.80" y1="464.50" x2="53.97" y2="510.65" stroke="#333" stroke-width="0.45" stroke-dasharray="1.3,1.0" opacity="0.8"/>
<line x1="84.80" y1="464.50" x2="63.56" y2="515.78" stroke="#333" stroke-width="0.45" stroke-dasharray="1.3,1.0" opacity="0.8"/>
<line x1="84.80" y1="464.50" x2="73.97" y2="518.93" stroke="#333" stroke-width="0.45" stroke-dasharray="1.3,1.0" opacity="0.8"/>
<line x1="84.80" y1="464.50" x2="84.80" y2="520.00" stroke="#333" stroke-width="0.45" stroke-dasharray="1.3,1.0" opacity="0.8"/>
<line x1="84.80" y1="464.50" x2="95.63" y2="518.93" stroke="#333" stroke-width="0.45" stroke-dasharray="1.3,1.0" opacity="0.8"/>
<line x1="84.80" y1="464.50" x2="106.04" y2="515.78" stroke="#333" stroke-width="0.45" stroke-dasharray="1.3,1.0" opacity="0.8"/>
<line x1="84.80" y1="464.50" x2="115.63" y2="510.65" stroke="#333" stroke-width="0.45" stroke-dasharray="1.3,1.0" opacity="0.8"/>
<line x1="84.80" y1="464.50" x2="124.04" y2="503.74" stroke="#333" stroke-width="0.45" stroke-dasharray="1.3,1.0" opacity="0.8"/>
<line x1="84.80" y1="464.50" x2="130.95" y2="495.33" stroke="#333" stroke-width="0.45" stroke-dasharray="1.3,1.0" opacity="0.8"/>
<line x1="84.80" y1="464.50" x2="136.08" y2="485.74" stroke="#333" stroke-width="0.45" stroke-dasharray="1.3,1.0" opacity="0.8"/>
<line x1="84.80" y1="464.50" x2="139.23" y2="475.33" stroke="#333" stroke-width="0.45" stroke-dasharray="1.3,1.0" opacity="0.8"/>
<circle cx="84.8" cy="464.5" r="56.1" fill="none" stroke="#555" stroke-width="0.75"/>
<circle cx="84.8" cy="464.5" r="0.9" fill="#111"/>
<text x="144.32" y="452.66" font-size="9.6" fill="#1a1a1a" text-anchor="middle" dominant-baseline="central" font-family='"Liberation Sans", sans-serif' textLength="4.9" lengthAdjust="spacingAndGlyphs">0</text>
<text x="136.00" y="430.29" font-size="9.6" fill="#1a1a1a" text-anchor="middle" dominant-baseline="central" font-family='"Liberation Sans", sans-serif' textLength="4.9" lengthAdjust="spacingAndGlyphs">5</text>
<text x="119.93" y="411.92" font-size="9.6" fill="#1a1a1a" text-anchor="middle" dominant-baseline="central" font-family='"Liberation Sans", sans-serif' textLength="9.8" lengthAdjust="spacingAndGlyphs">10</text>
<text x="96.89" y="403.70" font-size="9.6" fill="#1a1a1a" text-anchor="middle" dominant-baseline="central" font-family='"Liberation Sans", sans-serif' textLength="9.8" lengthAdjust="spacingAndGlyphs">15</text>
<text x="72.71" y="403.70" font-size="9.6" fill="#1a1a1a" text-anchor="middle" dominant-baseline="central" font-family='"Liberation Sans", sans-serif' textLength="9.8" lengthAdjust="spacingAndGlyphs">20</text>
<text x="49.67" y="411.92" font-size="9.6" fill="#1a1a1a" text-anchor="middle" dominant-baseline="central" font-family='"Liberation Sans", sans-serif' textLength="9.8" lengthAdjust="spacingAndGlyphs">30</text>
<text x="31.90" y="429.16" font-size="9.6" fill="#1a1a1a" text-anchor="middle" dominant-baseline="central" font-family='"Liberation Sans", sans-serif' textLength="9.8" lengthAdjust="spacingAndGlyphs">45</text>
<text x="22.92" y="452.19" font-size="9.6" fill="#1a1a1a" text-anchor="middle" dominant-baseline="central" font-family='"Liberation Sans", sans-serif' textLength="9.8" lengthAdjust="spacingAndGlyphs">60</text>
<text x="22.92" y="476.81" font-size="9.6" fill="#1a1a1a" text-anchor="middle" dominant-baseline="central" font-family='"Liberation Sans", sans-serif' textLength="9.8" lengthAdjust="spacingAndGlyphs">75</text>
<text x="31.90" y="499.84" font-size="9.6" fill="#1a1a1a" text-anchor="middle" dominant-baseline="central" font-family='"Liberation Sans", sans-serif' textLength="9.8" lengthAdjust="spacingAndGlyphs">90</text>
<text x="48.91" y="518.21" font-size="9.6" fill="#1a1a1a" text-anchor="middle" dominant-baseline="central" font-family='"Liberation Sans", sans-serif' textLength="14.7" lengthAdjust="spacingAndGlyphs">120</text>
<text x="72.61" y="525.77" font-size="9.6" fill="#1a1a1a" text-anchor="middle" dominant-baseline="central" font-family='"Liberation Sans", sans-serif' textLength="14.7" lengthAdjust="spacingAndGlyphs">150</text>
<text x="96.99" y="525.77" font-size="9.6" fill="#1a1a1a" text-anchor="middle" dominant-baseline="central" font-family='"Liberation Sans", sans-serif' textLength="14.7" lengthAdjust="spacingAndGlyphs">180</text>
<text x="120.69" y="518.21" font-size="9.6" fill="#1a1a1a" text-anchor="middle" dominant-baseline="central" font-family='"Liberation Sans", sans-serif' textLength="14.7" lengthAdjust="spacingAndGlyphs">240</text>
<text x="139.39" y="500.98" font-size="9.6" fill="#1a1a1a" text-anchor="middle" dominant-baseline="central" font-family='"Liberation Sans", sans-serif' textLength="14.7" lengthAdjust="spacingAndGlyphs">360</text>
<text x="151.39" y="477.75" font-size="9.6" fill="#1a1a1a" text-anchor="middle" dominant-baseline="central" font-family='"Liberation Sans", sans-serif' textLength="19.6" lengthAdjust="spacingAndGlyphs">1440</text>
<polygon points="307.02,429.18 310.94,425.26 292.94,413.22 290.82,418.35" fill="#f4625f" stroke="#f4625f" stroke-width="0.25"/>
<polygon points="286.57,428.61 288.69,423.48 271.70,420.10 271.70,425.65" fill="#f8f5b0" stroke="#f8f5b0" stroke-width="0.25"/>
<polygon points="288.69,423.48 290.82,418.35 271.70,414.55 271.70,420.10" fill="#fdb47b" stroke="#fdb47b" stroke-width="0.25"/>
<polygon points="290.82,418.35 292.94,413.22 271.70,409.00 271.70,414.55" fill="#e84b6b" stroke="#e84b6b" stroke-width="0.25"/>
<polygon points="271.70,425.65 271.70,420.10 254.71,423.48 256.83,428.61" fill="#f8f5b0" stroke="#f8f5b0" stroke-width="0.25"/>
<polygon points="271.70,420.10 271.70,414.55 252.58,418.35 254.71,423.48" fill="#fdb47b" stroke="#fdb47b" stroke-width="0.25"/>
<polygon points="271.70,414.55 271.70,409.00 250.46,413.22 252.58,418.35" fill="#a0288a" stroke="#a0288a" stroke-width="0.25"/>
<polygon points="256.83,428.61 254.71,423.48 240.30,433.10 244.23,437.03" fill="#f8f5b0" stroke="#f8f5b0" stroke-width="0.25"/>
<polygon points="252.58,418.35 250.46,413.22 232.46,425.26 236.38,429.18" fill="#a0288a" stroke="#a0288a" stroke-width="0.25"/>
<polygon points="236.38,429.18 232.46,425.26 220.42,443.26 225.55,445.38" fill="#982a8d" stroke="#982a8d" stroke-width="0.25"/>
<polygon points="235.81,449.63 230.68,447.51 227.30,464.50 232.85,464.50" fill="#f8f5b0" stroke="#f8f5b0" stroke-width="0.25"/>
<polygon points="230.68,447.51 225.55,445.38 221.75,464.50 227.30,464.50" fill="#f8f5b0" stroke="#f8f5b0" stroke-width="0.25"/>
<polygon points="225.55,445.38 220.42,443.26 216.20,464.50 221.75,464.50" fill="#711d8c" stroke="#711d8c" stroke-width="0.25"/>
<polygon points="232.85,464.50 227.30,464.50 230.68,481.49 235.81,479.37" fill="#f8f5b0" stroke="#f8f5b0" stroke-width="0.25"/>
<polygon points="221.75,464.50 216.20,464.50 220.42,485.74 225.55,483.62" fill="#6a1b8a" stroke="#6a1b8a" stroke-width="0.25"/>
<polygon points="230.68,481.49 225.55,483.62 236.38,499.82 240.30,495.90" fill="#fb815c" stroke="#fb815c" stroke-width="0.25"/>
<polygon points="225.55,483.62 220.42,485.74 232.46,503.74 236.38,499.82" fill="#6a1b8a" stroke="#6a1b8a" stroke-width="0.25"/>
<polygon points="236.38,499.82 232.46,503.74 250.46,515.78 252.58,510.65" fill="#681c8b" stroke="#681c8b" stroke-width="0.25"/>
<polygon points="256.83,500.39 254.71,505.52 271.70,508.90 271.70,503.35" fill="#f8f5b0" stroke="#f8f5b0" stroke-width="0.25"/>
<polygon points="254.71,505.52 252.58,510.65 271.70,514.45 271.70,508.90" fill="#fb815c" stroke="#fb815c" stroke-width="0.25"/>
<polygon points="252.58,510.65 250.46,515.78 271.70,520.00 271.70,514.45" fill="#5d1a8a" stroke="#5d1a8a" stroke-width="0.25"/>
<polygon points="271.70,508.90 271.70,514.45 290.82,510.65 288.69,505.52" fill="#fdb47b" stroke="#fdb47b" stroke-width="0.25"/>
<polygon points="271.70,514.45 271.70,520.00 292.94,515.78 290.82,510.65" fill="#5b1a8a" stroke="#5b1a8a" stroke-width="0.25"/>
<polygon points="286.57,500.39 288.69,505.52 303.10,495.90 299.17,491.97" fill="#f8f5b0" stroke="#f8f5b0" stroke-width="0.25"/>
<polygon points="288.69,505.52 290.82,510.65 307.02,499.82 303.10,495.90" fill="#fdb47b" stroke="#fdb47b" stroke-width="0.25"/>
<polygon points="290.82,510.65 292.94,515.78 310.94,503.74 307.02,499.82" fill="#591a88" stroke="#591a88" stroke-width="0.25"/>
<polygon points="299.17,491.97 303.10,495.90 312.72,481.49 307.59,479.37" fill="#fdb47b" stroke="#fdb47b" stroke-width="0.25"/>
<polygon points="303.10,495.90 307.02,499.82 317.85,483.62 312.72,481.49" fill="#fb815c" stroke="#fb815c" stroke-width="0.25"/>
<polygon points="307.02,499.82 310.94,503.74 322.98,485.74 317.85,483.62" fill="#521a86" stroke="#521a86" stroke-width="0.25"/>
<polygon points="307.59,479.37 312.72,481.49 316.10,464.50 310.55,464.50" fill="#f8f5b0" stroke="#f8f5b0" stroke-width="0.25"/>
<polygon points="312.72,481.49 317.85,483.62 321.65,464.50 316.10,464.50" fill="#fdb47b" stroke="#fdb47b" stroke-width="0.25"/>
<polygon points="317.85,483.62 322.98,485.74 327.20,464.50 321.65,464.50" fill="#2c0f5c" stroke="#2c0f5c" stroke-width="0.25"/>
<circle cx="271.7" cy="464.5" r="5.55" fill="none" stroke="#333" stroke-width="0.45" stroke-dasharray="1.3,1.0" opacity="0.8"/>
<circle cx="271.7" cy="464.5" r="11.10" fill="none" stroke="#333" stroke-width="0.45" stroke-dasharray="1.3,1.0" opacity="0.8"/>
<circle cx="271.7" cy="464.5" r="16.65" fill="none" stroke="#333" stroke-width="0.45" stroke-dasharray="1.3,1.0" opacity="0.8"/>
<circle cx="271.7" cy="464.5" r="22.20" fill="none" stroke="#333" stroke-width="0.45" stroke-dasharray="1.3,1.0" opacity="0.8"/>
<circle cx="271.7" cy="464.5" r="27.75" fill="none" stroke="#333" stroke-width="0.45" stroke-dasharray="1.3,1.0" opacity="0.8"/>
<circle cx="271.7" cy="464.5" r="33.30" fill="none" stroke="#333" stroke-width="0.45" stroke-dasharray="1.3,1.0" opacity="0.8"/>
<circle cx="271.7" cy="464.5" r="38.85" fill="none" stroke="#333" stroke-width="0.45" stroke-dasharray="1.3,1.0" opacity="0.8"/>
<circle cx="271.7" cy="464.5" r="44.40" fill="none" stroke="#333" stroke-width="0.45" stroke-dasharray="1.3,1.0" opacity="0.8"/>
<circle cx="271.7" cy="464.5" r="49.95" fill="none" stroke="#333" stroke-width="0.45" stroke-dasharray="1.3,1.0" opacity="0.8"/>
<line x1="271.70" y1="464.50" x2="327.20" y2="464.50" stroke="#333" stroke-width="0.45" stroke-dasharray="1.3,1.0" opacity="0.8"/>
<line x1="271.70" y1="464.50" x2="326.13" y2="453.67" stroke="#333" stroke-width="0.45" stroke-dasharray="1.3,1.0" opacity="0.8"/>
<line x1="271.70" y1="464.50" x2="322.98" y2="443.26" stroke="#333" stroke-width="0.45" stroke-dasharray="1.3,1.0" opacity="0.8"/>
<line x1="271.70" y1="464.50" x2="317.85" y2="433.67" stroke="#333" stroke-width="0.45" stroke-dasharray="1.3,1.0" opacity="0.8"/>
<line x1="271.70" y1="464.50" x2="310.94" y2="425.26" stroke="#333" stroke-width="0.45" stroke-dasharray="1.3,1.0" opacity="0.8"/>
<line x1="271.70" y1="464.50" x2="302.53" y2="418.35" stroke="#333" stroke-width="0.45" stroke-dasharray="1.3,1.0" opacity="0.8"/>
<line x1="271.70" y1="464.50" x2="292.94" y2="413.22" stroke="#333" stroke-width="0.45" stroke-dasharray="1.3,1.0" opacity="0.8"/>
<line x1="271.70" y1="464.50" x2="282.53" y2="410.07" stroke="#333" stroke-width="0.45" stroke-dasharray="1.3,1.0" opacity="0.8"/>
<line x1="271.70" y1="464.50" x2="271.70" y2="409.00" stroke="#333" stroke-width="0.45" stroke-dasharray="1.3,1.0" opacity="0.8"/>
<line x1="271.70" y1="464.50" x2="260.87" y2="410.07" stroke="#333" stroke-width="0.45" stroke-dasharray="1.3,1.0" opacity="0.8"/>
<line x1="271.70" y1="464.50" x2="250.46" y2="413.22" stroke="#333" stroke-width="0.45" stroke-dasharray="1.3,1.0" opacity="0.8"/>
<line x1="271.70" y1="464.50" x2="240.87" y2="418.35" stroke="#333" stroke-width="0.45" stroke-dasharray="1.3,1.0" opacity="0.8"/>
<line x1="271.70" y1="464.50" x2="232.46" y2="425.26" stroke="#333" stroke-width="0.45" stroke-dasharray="1.3,1.0" opacity="0.8"/>
<line x1="271.70" y1="464.50" x2="225.55" y2="433.67" stroke="#333" stroke-width="0.45" stroke-dasharray="1.3,1.0" opacity="0.8"/>
<line x1="271.70" y1="464.50" x2="220.42" y2="443.26" stroke="#333" stroke-width="0.45" stroke-dasharray="1.3,1.0" opacity="0.8"/>
<line x1="271.70" y1="464.50" x2="217.27" y2="453.67" stroke="#333" stroke-width="0.45" stroke-dasharray="1.3,1.0" opacity="0.8"/>
<line x1="271.70" y1="464.50" x2="216.20" y2="464.50" stroke="#333" stroke-width="0.45" stroke-dasharray="1.3,1.0" opacity="0.8"/>
<line x1="271.70" y1="464.50" x2="217.27" y2="475.33" stroke="#333" stroke-width="0.45" stroke-dasharray="1.3,1.0" opacity="0.8"/>
<line x1="271.70" y1="464.50" x2="220.42" y2="485.74" stroke="#333" stroke-width="0.45" stroke-dasharray="1.3,1.0" opacity="0.8"/>
<line x1="271.70" y1="464.50" x2="225.55" y2="495.33" stroke="#333" stroke-width="0.45" stroke-dasharray="1.3,1.0" opacity="0.8"/>
<line x1="271.70" y1="464.50" x2="232.46" y2="503.74" stroke="#333" stroke-width="0.45" stroke-dasharray="1.3,1.0" opacity="0.8"/>
<line x1="271.70" y1="464.50" x2="240.87" y2="510.65" stroke="#333" stroke-width="0.45" stroke-dasharray="1.3,1.0" opacity="0.8"/>
<line x1="271.70" y1="464.50" x2="250.46" y2="515.78" stroke="#333" stroke-width="0.45" stroke-dasharray="1.3,1.0" opacity="0.8"/>
<line x1="271.70" y1="464.50" x2="260.87" y2="518.93" stroke="#333" stroke-width="0.45" stroke-dasharray="1.3,1.0" opacity="0.8"/>
<line x1="271.70" y1="464.50" x2="271.70" y2="520.00" stroke="#333" stroke-width="0.45" stroke-dasharray="1.3,1.0" opacity="0.8"/>
<line x1="271.70" y1="464.50" x2="282.53" y2="518.93" stroke="#333" stroke-width="0.45" stroke-dasharray="1.3,1.0" opacity="0.8"/>
<line x1="271.70" y1="464.50" x2="292.94" y2="515.78" stroke="#333" stroke-width="0.45" stroke-dasharray="1.3,1.0" opacity="0.8"/>
<line x1="271.70" y1="464.50" x2="302.53" y2="510.65" stroke="#333" stroke-width="0.45" stroke-dasharray="1.3,1.0" opacity="0.8"/>
<line x1="271.70" y1="464.50" x2="310.94" y2="503.74" stroke="#333" stroke-width="0.45" stroke-dasharray="1.3,1.0" opacity="0.8"/>
<line x1="271.70" y1="464.50" x2="317.85" y2="495.33" stroke="#333" stroke-width="0.45" stroke-dasharray="1.3,1.0" opacity="0.8"/>
<line x1="271.70" y1="464.50" x2="322.98" y2="485.74" stroke="#333" stroke-width="0.45" stroke-dasharray="1.3,1.0" opacity="0.8"/>
<line x1="271.70" y1="464.50" x2="326.13" y2="475.33" stroke="#333" stroke-width="0.45" stroke-dasharray="1.3,1.0" opacity="0.8"/>
<circle cx="271.7" cy="464.5" r="56.1" fill="none" stroke="#555" stroke-width="0.75"/>
<circle cx="271.7" cy="464.5" r="0.9" fill="#111"/>
<text x="331.22" y="452.66" font-size="9.6" fill="#1a1a1a" text-anchor="middle" dominant-baseline="central" font-family='"Liberation Sans", sans-serif' textLength="4.9" lengthAdjust="spacingAndGlyphs">0</text>
<text x="306.83" y="411.92" font-size="9.6" fill="#1a1a1a" text-anchor="middle" dominant-baseline="central" font-family='"Liberation Sans", sans-serif' textLength="9.8" lengthAdjust="spacingAndGlyphs">10</text>
<text x="283.79" y="403.70" font-size="9.6" fill="#1a1a1a" text-anchor="middle" dominant-baseline="central" font-family='"Liberation Sans", sans-serif' textLength="9.8" lengthAdjust="spacingAndGlyphs">15</text>
<text x="259.61" y="403.70" font-size="9.6" fill="#1a1a1a" text-anchor="middle" dominant-baseline="central" font-family='"Liberation Sans", sans-serif' textLength="9.8" lengthAdjust="spacingAndGlyphs">20</text>
<text x="236.57" y="411.92" font-size="9.6" fill="#1a1a1a" text-anchor="middle" dominant-baseline="central" font-family='"Liberation Sans", sans-serif' textLength="9.8" lengthAdjust="spacingAndGlyphs">30</text>
<text x="218.80" y="429.16" font-size="9.6" fill="#1a1a1a" text-anchor="middle" dominant-baseline="central" font-family='"Liberation Sans", sans-serif' textLength="9.8" lengthAdjust="spacingAndGlyphs">45</text>
<text x="209.82" y="452.19" font-size="9.6" fill="#1a1a1a" text-anchor="middle" dominant-baseline="central" font-family='"Liberation Sans", sans-serif' textLength="9.8" lengthAdjust="spacingAndGlyphs">60</text>
<text x="209.82" y="476.81" font-size="9.6" fill="#1a1a1a" text-anchor="middle" dominant-baseline="central" font-family='"Liberation Sans", sans-serif' textLength="9.8" lengthAdjust="spacingAndGlyphs">75</text>
<text x="218.80" y="499.84" font-size="9.6" fill="#1a1a1a" text-anchor="middle" dominant-baseline="central" font-family='"Liberation Sans", sans-serif' textLength="9.8" lengthAdjust="spacingAndGlyphs">90</text>
<text x="235.81" y="518.21" font-size="9.6" fill="#1a1a1a" text-anchor="middle" dominant-baseline="central" font-family='"Liberation Sans", sans-serif' textLength="14.7" lengthAdjust="spacingAndGlyphs">120</text>
<text x="259.51" y="525.77" font-size="9.6" fill="#1a1a1a" text-anchor="middle" dominant-baseline="central" font-family='"Liberation Sans", sans-serif' textLength="14.7" lengthAdjust="spacingAndGlyphs">150</text>
<text x="283.89" y="525.77" font-size="9.6" fill="#1a1a1a" text-anchor="middle" dominant-baseline="central" font-family='"Liberation Sans", sans-serif' textLength="14.7" lengthAdjust="spacingAndGlyphs">180</text>
<text x="307.59" y="518.21" font-size="9.6" fill="#1a1a1a" text-anchor="middle" dominant-baseline="central" font-family='"Liberation Sans", sans-serif' textLength="14.7" lengthAdjust="spacingAndGlyphs">240</text>
<text x="326.29" y="500.98" font-size="9.6" fill="#1a1a1a" text-anchor="middle" dominant-baseline="central" font-family='"Liberation Sans", sans-serif' textLength="14.7" lengthAdjust="spacingAndGlyphs">360</text>
<text x="338.29" y="477.75" font-size="9.6" fill="#1a1a1a" text-anchor="middle" dominant-baseline="central" font-family='"Liberation Sans", sans-serif' textLength="19.6" lengthAdjust="spacingAndGlyphs">1440</text>
<text x="24.5" y="386.4" font-size="10.4" font-weight="bold" fill="#000" text-anchor="start" font-family='"Liberation Sans", sans-serif' textLength="121.5" lengthAdjust="spacingAndGlyphs"  stroke="#000" stroke-width="0.25">Recorded Initial Sorptivities</text>
<text x="204.8" y="386.4" font-size="10.4" font-weight="bold" fill="#000" text-anchor="start" font-family='"Liberation Sans", sans-serif' textLength="141.6" lengthAdjust="spacingAndGlyphs"  stroke="#000" stroke-width="0.25">Recorded Secondary Sorptivities</text>
<text stroke="#111" stroke-width="0.22" transform="translate(10.2,458.8) rotate(-91)" font-size="8.8" font-weight="bold" fill="#111" text-anchor="middle" dominant-baseline="central" font-family='"Liberation Sans", sans-serif' textLength="65" lengthAdjust="spacingAndGlyphs">Absorption <tspan font-style="italic">(min)</tspan></text>
<path d="M18.2,435.0 Q10.6,460.8 17.8,485.6" fill="none" stroke="#222" stroke-width="0.75"/>
<polygon points="18.6,487.8 15.8,483.6 18.9,483.2" fill="#222"/>
<rect x="178.9" y="404.4" width="5.4" height="121.9" fill="url(#magma)"/>
<line x1="184.3" y1="406.6" x2="186" y2="406.6" stroke="#333" stroke-width="0.6"/>
<text x="187.0" y="409.8" font-size="9.4" fill="#1a1a1a" font-family='"Liberation Sans", sans-serif'>10<tspan font-size="6.2" dy="-3.6">2</tspan></text>
<line x1="184.3" y1="466.0" x2="186" y2="466.0" stroke="#333" stroke-width="0.6"/>
<text x="187.0" y="469.2" font-size="9.4" fill="#1a1a1a" font-family='"Liberation Sans", sans-serif'>10<tspan font-size="6.2" dy="-3.6">1</tspan></text>
<line x1="184.3" y1="526.0" x2="186" y2="526.0" stroke="#333" stroke-width="0.6"/>
<text x="187.0" y="529.2" font-size="9.4" fill="#1a1a1a" font-family='"Liberation Sans", sans-serif'>10<tspan font-size="6.2" dy="-3.6">0</tspan></text>
<text stroke="#111" stroke-width="0.22" transform="translate(168.4,464.5) rotate(-90)" font-size="9.0" font-weight="bold" fill="#111" text-anchor="middle" dominant-baseline="central" font-family='"Liberation Sans", sans-serif' textLength="121" lengthAdjust="spacingAndGlyphs">No. of Sorptivity Measurements</text>
<line x1="272.2" y1="464.0" x2="311.3" y2="428.9" stroke="#f01818" stroke-width="1.0"/>
<circle cx="311.3" cy="428.9" r="1.0" fill="#f01818"/>
<text transform="translate(275.2,464.2) rotate(48)" font-size="10.4" font-weight="bold" fill="#f01818" text-anchor="middle" dominant-baseline="central" font-family='"Liberation Sans", sans-serif' stroke="#f01818" stroke-width="0.25">0</text>
<text transform="translate(296.2,453.0) rotate(48)" font-size="9.0" font-weight="bold" fill="#f01818" text-anchor="middle" dominant-baseline="central" font-family='"Liberation Sans", sans-serif' textLength="11.5" lengthAdjust="spacingAndGlyphs" stroke="#f01818" stroke-width="0.25">0.5</text>
<text transform="translate(321.4,432.6) rotate(52)" font-size="9.4" font-weight="bold" fill="#f01818" text-anchor="middle" dominant-baseline="central" font-family='"Liberation Sans", sans-serif' textLength="12.5" lengthAdjust="spacingAndGlyphs" stroke="#f01818" stroke-width="0.25">1.0</text>
<text transform="translate(332.6,432.4) rotate(56)" font-size="9.6" font-weight="bold" fill="#f01818" text-anchor="middle" dominant-baseline="central" font-family='"Liberation Sans", sans-serif' textLength="43" lengthAdjust="spacingAndGlyphs" stroke="#f01818" stroke-width="0.25">Area Ratio</text>
<rect x="405.6" y="412.0" width="175.39999999999998" height="91.19999999999999" fill="none" stroke="#a6a6a6" stroke-width="0.8"/>
<line x1="403.6" y1="503.2" x2="405.6" y2="503.2" stroke="#555" stroke-width="0.8"/>
<text x="403.0" y="503.5" font-size="8.6" fill="#222" stroke="#222" stroke-width="0.12" text-anchor="end" dominant-baseline="central" font-family='"Liberation Sans", sans-serif' textLength="12.0" lengthAdjust="spacingAndGlyphs">0.6</text>
<line x1="403.6" y1="480.4" x2="405.6" y2="480.4" stroke="#555" stroke-width="0.8"/>
<text x="403.0" y="480.65000000000003" font-size="8.6" fill="#222" stroke="#222" stroke-width="0.12" text-anchor="end" dominant-baseline="central" font-family='"Liberation Sans", sans-serif' textLength="12.0" lengthAdjust="spacingAndGlyphs">0.7</text>
<line x1="403.6" y1="457.5" x2="405.6" y2="457.5" stroke="#555" stroke-width="0.8"/>
<text x="403.0" y="457.8" font-size="8.6" fill="#222" stroke="#222" stroke-width="0.12" text-anchor="end" dominant-baseline="central" font-family='"Liberation Sans", sans-serif' textLength="12.0" lengthAdjust="spacingAndGlyphs">0.8</text>
<line x1="403.6" y1="434.6" x2="405.6" y2="434.6" stroke="#555" stroke-width="0.8"/>
<text x="403.0" y="434.95" font-size="8.6" fill="#222" stroke="#222" stroke-width="0.12" text-anchor="end" dominant-baseline="central" font-family='"Liberation Sans", sans-serif' textLength="12.0" lengthAdjust="spacingAndGlyphs">0.9</text>
<line x1="403.6" y1="411.8" x2="405.6" y2="411.8" stroke="#555" stroke-width="0.8"/>
<text x="403.0" y="412.09999999999997" font-size="8.6" fill="#222" stroke="#222" stroke-width="0.12" text-anchor="end" dominant-baseline="central" font-family='"Liberation Sans", sans-serif' textLength="12.0" lengthAdjust="spacingAndGlyphs">1.0</text>
<line x1="404.6" y1="503.2" x2="405.6" y2="503.2" stroke="#777" stroke-width="0.5"/>
<line x1="404.6" y1="500.9" x2="405.6" y2="500.9" stroke="#777" stroke-width="0.5"/>
<line x1="404.6" y1="498.6" x2="405.6" y2="498.6" stroke="#777" stroke-width="0.5"/>
<line x1="404.6" y1="496.3" x2="405.6" y2="496.3" stroke="#777" stroke-width="0.5"/>
<line x1="404.6" y1="494.1" x2="405.6" y2="494.1" stroke="#777" stroke-width="0.5"/>
<line x1="404.6" y1="491.8" x2="405.6" y2="491.8" stroke="#777" stroke-width="0.5"/>
<line x1="404.6" y1="489.5" x2="405.6" y2="489.5" stroke="#777" stroke-width="0.5"/>
<line x1="404.6" y1="487.2" x2="405.6" y2="487.2" stroke="#777" stroke-width="0.5"/>
<line x1="404.6" y1="484.9" x2="405.6" y2="484.9" stroke="#777" stroke-width="0.5"/>
<line x1="404.6" y1="482.6" x2="405.6" y2="482.6" stroke="#777" stroke-width="0.5"/>
<line x1="404.6" y1="480.4" x2="405.6" y2="480.4" stroke="#777" stroke-width="0.5"/>
<line x1="404.6" y1="478.1" x2="405.6" y2="478.1" stroke="#777" stroke-width="0.5"/>
<line x1="404.6" y1="475.8" x2="405.6" y2="475.8" stroke="#777" stroke-width="0.5"/>
<line x1="404.6" y1="473.5" x2="405.6" y2="473.5" stroke="#777" stroke-width="0.5"/>
<line x1="404.6" y1="471.2" x2="405.6" y2="471.2" stroke="#777" stroke-width="0.5"/>
<line x1="404.6" y1="468.9" x2="405.6" y2="468.9" stroke="#777" stroke-width="0.5"/>
<line x1="404.6" y1="466.6" x2="405.6" y2="466.6" stroke="#777" stroke-width="0.5"/>
<line x1="404.6" y1="464.4" x2="405.6" y2="464.4" stroke="#777" stroke-width="0.5"/>
<line x1="404.6" y1="462.1" x2="405.6" y2="462.1" stroke="#777" stroke-width="0.5"/>
<line x1="404.6" y1="459.8" x2="405.6" y2="459.8" stroke="#777" stroke-width="0.5"/>
<line x1="404.6" y1="457.5" x2="405.6" y2="457.5" stroke="#777" stroke-width="0.5"/>
<line x1="404.6" y1="455.2" x2="405.6" y2="455.2" stroke="#777" stroke-width="0.5"/>
<line x1="404.6" y1="452.9" x2="405.6" y2="452.9" stroke="#777" stroke-width="0.5"/>
<line x1="404.6" y1="450.6" x2="405.6" y2="450.6" stroke="#777" stroke-width="0.5"/>
<line x1="404.6" y1="448.4" x2="405.6" y2="448.4" stroke="#777" stroke-width="0.5"/>
<line x1="404.6" y1="446.1" x2="405.6" y2="446.1" stroke="#777" stroke-width="0.5"/>
<line x1="404.6" y1="443.8" x2="405.6" y2="443.8" stroke="#777" stroke-width="0.5"/>
<line x1="404.6" y1="441.5" x2="405.6" y2="441.5" stroke="#777" stroke-width="0.5"/>
<line x1="404.6" y1="439.2" x2="405.6" y2="439.2" stroke="#777" stroke-width="0.5"/>
<line x1="404.6" y1="436.9" x2="405.6" y2="436.9" stroke="#777" stroke-width="0.5"/>
<line x1="404.6" y1="434.6" x2="405.6" y2="434.6" stroke="#777" stroke-width="0.5"/>
<line x1="404.6" y1="432.4" x2="405.6" y2="432.4" stroke="#777" stroke-width="0.5"/>
<line x1="404.6" y1="430.1" x2="405.6" y2="430.1" stroke="#777" stroke-width="0.5"/>
<line x1="404.6" y1="427.8" x2="405.6" y2="427.8" stroke="#777" stroke-width="0.5"/>
<line x1="404.6" y1="425.5" x2="405.6" y2="425.5" stroke="#777" stroke-width="0.5"/>
<line x1="404.6" y1="423.2" x2="405.6" y2="423.2" stroke="#777" stroke-width="0.5"/>
<line x1="404.6" y1="420.9" x2="405.6" y2="420.9" stroke="#777" stroke-width="0.5"/>
<line x1="404.6" y1="418.7" x2="405.6" y2="418.7" stroke="#777" stroke-width="0.5"/>
<line x1="404.6" y1="416.4" x2="405.6" y2="416.4" stroke="#777" stroke-width="0.5"/>
<line x1="404.6" y1="414.1" x2="405.6" y2="414.1" stroke="#777" stroke-width="0.5"/>
<line x1="404.6" y1="411.8" x2="405.6" y2="411.8" stroke="#777" stroke-width="0.5"/>
<line x1="411.0" y1="503.2" x2="411.0" y2="505.2" stroke="#555" stroke-width="0.8"/>
<text x="411.0" y="512.6" font-size="8.6" fill="#222" stroke="#222" stroke-width="0.12" text-anchor="middle" dominant-baseline="central" font-family='"Liberation Sans", sans-serif'>0</text>
<line x1="437.3" y1="503.2" x2="437.3" y2="505.2" stroke="#555" stroke-width="0.8"/>
<text x="437.3" y="512.6" font-size="8.6" fill="#222" stroke="#222" stroke-width="0.12" text-anchor="middle" dominant-baseline="central" font-family='"Liberation Sans", sans-serif' textLength="9.5" lengthAdjust="spacingAndGlyphs">10</text>
<line x1="463.6" y1="503.2" x2="463.6" y2="505.2" stroke="#555" stroke-width="0.8"/>
<text x="463.6" y="512.6" font-size="8.6" fill="#222" stroke="#222" stroke-width="0.12" text-anchor="middle" dominant-baseline="central" font-family='"Liberation Sans", sans-serif' textLength="9.5" lengthAdjust="spacingAndGlyphs">20</text>
<line x1="489.9" y1="503.2" x2="489.9" y2="505.2" stroke="#555" stroke-width="0.8"/>
<text x="489.9" y="512.6" font-size="8.6" fill="#222" stroke="#222" stroke-width="0.12" text-anchor="middle" dominant-baseline="central" font-family='"Liberation Sans", sans-serif' textLength="9.5" lengthAdjust="spacingAndGlyphs">30</text>
<line x1="516.2" y1="503.2" x2="516.2" y2="505.2" stroke="#555" stroke-width="0.8"/>
<text x="516.2" y="512.6" font-size="8.6" fill="#222" stroke="#222" stroke-width="0.12" text-anchor="middle" dominant-baseline="central" font-family='"Liberation Sans", sans-serif' textLength="9.5" lengthAdjust="spacingAndGlyphs">40</text>
<line x1="542.5" y1="503.2" x2="542.5" y2="505.2" stroke="#555" stroke-width="0.8"/>
<text x="542.5" y="512.6" font-size="8.6" fill="#222" stroke="#222" stroke-width="0.12" text-anchor="middle" dominant-baseline="central" font-family='"Liberation Sans", sans-serif' textLength="9.5" lengthAdjust="spacingAndGlyphs">50</text>
<line x1="568.8" y1="503.2" x2="568.8" y2="505.2" stroke="#555" stroke-width="0.8"/>
<text x="568.8" y="512.6" font-size="8.6" fill="#222" stroke="#222" stroke-width="0.12" text-anchor="middle" dominant-baseline="central" font-family='"Liberation Sans", sans-serif' textLength="9.5" lengthAdjust="spacingAndGlyphs">60</text>
<line x1="411.0" y1="503.2" x2="411.0" y2="504.2" stroke="#777" stroke-width="0.5"/>
<line x1="416.3" y1="503.2" x2="416.3" y2="504.2" stroke="#777" stroke-width="0.5"/>
<line x1="421.5" y1="503.2" x2="421.5" y2="504.2" stroke="#777" stroke-width="0.5"/>
<line x1="426.8" y1="503.2" x2="426.8" y2="504.2" stroke="#777" stroke-width="0.5"/>
<line x1="432.0" y1="503.2" x2="432.0" y2="504.2" stroke="#777" stroke-width="0.5"/>
<line x1="437.3" y1="503.2" x2="437.3" y2="504.2" stroke="#777" stroke-width="0.5"/>
<line x1="442.6" y1="503.2" x2="442.6" y2="504.2" stroke="#777" stroke-width="0.5"/>
<line x1="447.8" y1="503.2" x2="447.8" y2="504.2" stroke="#777" stroke-width="0.5"/>
<line x1="453.1" y1="503.2" x2="453.1" y2="504.2" stroke="#777" stroke-width="0.5"/>
<line x1="458.3" y1="503.2" x2="458.3" y2="504.2" stroke="#777" stroke-width="0.5"/>
<line x1="463.6" y1="503.2" x2="463.6" y2="504.2" stroke="#777" stroke-width="0.5"/>
<line x1="468.9" y1="503.2" x2="468.9" y2="504.2" stroke="#777" stroke-width="0.5"/>
<line x1="474.1" y1="503.2" x2="474.1" y2="504.2" stroke="#777" stroke-width="0.5"/>
<line x1="479.4" y1="503.2" x2="479.4" y2="504.2" stroke="#777" stroke-width="0.5"/>
<line x1="484.6" y1="503.2" x2="484.6" y2="504.2" stroke="#777" stroke-width="0.5"/>
<line x1="489.9" y1="503.2" x2="489.9" y2="504.2" stroke="#777" stroke-width="0.5"/>
<line x1="495.2" y1="503.2" x2="495.2" y2="504.2" stroke="#777" stroke-width="0.5"/>
<line x1="500.4" y1="503.2" x2="500.4" y2="504.2" stroke="#777" stroke-width="0.5"/>
<line x1="505.7" y1="503.2" x2="505.7" y2="504.2" stroke="#777" stroke-width="0.5"/>
<line x1="510.9" y1="503.2" x2="510.9" y2="504.2" stroke="#777" stroke-width="0.5"/>
<line x1="516.2" y1="503.2" x2="516.2" y2="504.2" stroke="#777" stroke-width="0.5"/>
<line x1="521.5" y1="503.2" x2="521.5" y2="504.2" stroke="#777" stroke-width="0.5"/>
<line x1="526.7" y1="503.2" x2="526.7" y2="504.2" stroke="#777" stroke-width="0.5"/>
<line x1="532.0" y1="503.2" x2="532.0" y2="504.2" stroke="#777" stroke-width="0.5"/>
<line x1="537.2" y1="503.2" x2="537.2" y2="504.2" stroke="#777" stroke-width="0.5"/>
<line x1="542.5" y1="503.2" x2="542.5" y2="504.2" stroke="#777" stroke-width="0.5"/>
<line x1="547.8" y1="503.2" x2="547.8" y2="504.2" stroke="#777" stroke-width="0.5"/>
<line x1="553.0" y1="503.2" x2="553.0" y2="504.2" stroke="#777" stroke-width="0.5"/>
<line x1="558.3" y1="503.2" x2="558.3" y2="504.2" stroke="#777" stroke-width="0.5"/>
<line x1="563.5" y1="503.2" x2="563.5" y2="504.2" stroke="#777" stroke-width="0.5"/>
<line x1="568.8" y1="503.2" x2="568.8" y2="504.2" stroke="#777" stroke-width="0.5"/>
<line x1="574.1" y1="503.2" x2="574.1" y2="504.2" stroke="#777" stroke-width="0.5"/>
<line x1="579.3" y1="503.2" x2="579.3" y2="504.2" stroke="#777" stroke-width="0.5"/>
<circle cx="411.1" cy="430.1" r="2.1" fill="#ff7474" fill-opacity="0.9" stroke="#ff4d4d" stroke-width="0.6"/>
<circle cx="414" cy="430.7" r="2.1" fill="#ff7474" fill-opacity="0.9" stroke="#ff4d4d" stroke-width="0.6"/>
<circle cx="416.9" cy="430.7" r="2.1" fill="#ff7474" fill-opacity="0.9" stroke="#ff4d4d" stroke-width="0.6"/>
<circle cx="419.8" cy="429.2" r="2.1" fill="#ff7474" fill-opacity="0.9" stroke="#ff4d4d" stroke-width="0.6"/>
<circle cx="421.9" cy="428.6" r="2.1" fill="#ff7474" fill-opacity="0.9" stroke="#ff4d4d" stroke-width="0.6"/>
<circle cx="424.2" cy="431.5" r="2.1" fill="#ff7474" fill-opacity="0.9" stroke="#ff4d4d" stroke-width="0.6"/>
<circle cx="426.5" cy="435" r="2.1" fill="#ff7474" fill-opacity="0.9" stroke="#ff4d4d" stroke-width="0.6"/>
<circle cx="429.2" cy="453.1" r="2.1" fill="#ff7474" fill-opacity="0.9" stroke="#ff4d4d" stroke-width="0.6"/>
<circle cx="432.1" cy="430.7" r="2.1" fill="#ff7474" fill-opacity="0.9" stroke="#ff4d4d" stroke-width="0.6"/>
<circle cx="434.4" cy="429.2" r="2.1" fill="#ff7474" fill-opacity="0.9" stroke="#ff4d4d" stroke-width="0.6"/>
<circle cx="437.3" cy="469.5" r="2.1" fill="#ff7474" fill-opacity="0.9" stroke="#ff4d4d" stroke-width="0.6"/>
<circle cx="439.7" cy="430.7" r="2.1" fill="#ff7474" fill-opacity="0.9" stroke="#ff4d4d" stroke-width="0.6"/>
<circle cx="442.3" cy="462.8" r="2.1" fill="#ff7474" fill-opacity="0.9" stroke="#ff4d4d" stroke-width="0.6"/>
<circle cx="445.2" cy="479.7" r="2.1" fill="#ff7474" fill-opacity="0.9" stroke="#ff4d4d" stroke-width="0.6"/>
<circle cx="447.6" cy="455.5" r="2.1" fill="#ff7474" fill-opacity="0.9" stroke="#ff4d4d" stroke-width="0.6"/>
<circle cx="449.9" cy="430.1" r="2.1" fill="#ff7474" fill-opacity="0.9" stroke="#ff4d4d" stroke-width="0.6"/>
<circle cx="452.8" cy="439.4" r="2.1" fill="#ff7474" fill-opacity="0.9" stroke="#ff4d4d" stroke-width="0.6"/>
<circle cx="455.4" cy="447.3" r="2.1" fill="#ff7474" fill-opacity="0.9" stroke="#ff4d4d" stroke-width="0.6"/>
<circle cx="458.1" cy="450.2" r="2.1" fill="#ff7474" fill-opacity="0.9" stroke="#ff4d4d" stroke-width="0.6"/>
<circle cx="460.7" cy="466.6" r="2.1" fill="#ff7474" fill-opacity="0.9" stroke="#ff4d4d" stroke-width="0.6"/>
<circle cx="463.3" cy="454.6" r="2.1" fill="#ff7474" fill-opacity="0.9" stroke="#ff4d4d" stroke-width="0.6"/>
<circle cx="466" cy="447.3" r="2.1" fill="#ff7474" fill-opacity="0.9" stroke="#ff4d4d" stroke-width="0.6"/>
<circle cx="468.6" cy="441.8" r="2.1" fill="#ff7474" fill-opacity="0.9" stroke="#ff4d4d" stroke-width="0.6"/>
<circle cx="471.2" cy="433" r="2.1" fill="#ff7474" fill-opacity="0.9" stroke="#ff4d4d" stroke-width="0.6"/>
<circle cx="473.8" cy="466.6" r="2.1" fill="#ff7474" fill-opacity="0.9" stroke="#ff4d4d" stroke-width="0.6"/>
<circle cx="476.5" cy="435.9" r="2.1" fill="#ff7474" fill-opacity="0.9" stroke="#ff4d4d" stroke-width="0.6"/>
<circle cx="479.1" cy="438" r="2.1" fill="#ff7474" fill-opacity="0.9" stroke="#ff4d4d" stroke-width="0.6"/>
<circle cx="481.7" cy="459.9" r="2.1" fill="#ff7474" fill-opacity="0.9" stroke="#ff4d4d" stroke-width="0.6"/>
<circle cx="484.3" cy="437.4" r="2.1" fill="#ff7474" fill-opacity="0.9" stroke="#ff4d4d" stroke-width="0.6"/>
<circle cx="487" cy="438.8" r="2.1" fill="#ff7474" fill-opacity="0.9" stroke="#ff4d4d" stroke-width="0.6"/>
<circle cx="489.6" cy="467.2" r="2.1" fill="#ff7474" fill-opacity="0.9" stroke="#ff4d4d" stroke-width="0.6"/>
<circle cx="492.2" cy="473.9" r="2.1" fill="#ff7474" fill-opacity="0.9" stroke="#ff4d4d" stroke-width="0.6"/>
<circle cx="494.9" cy="438.8" r="2.1" fill="#ff7474" fill-opacity="0.9" stroke="#ff4d4d" stroke-width="0.6"/>
<circle cx="497.5" cy="453.1" r="2.1" fill="#ff7474" fill-opacity="0.9" stroke="#ff4d4d" stroke-width="0.6"/>
<circle cx="500.1" cy="447.3" r="2.1" fill="#ff7474" fill-opacity="0.9" stroke="#ff4d4d" stroke-width="0.6"/>
<circle cx="502.7" cy="439.4" r="2.1" fill="#ff7474" fill-opacity="0.9" stroke="#ff4d4d" stroke-width="0.6"/>
<circle cx="505.4" cy="430.1" r="2.1" fill="#ff7474" fill-opacity="0.9" stroke="#ff4d4d" stroke-width="0.6"/>
<circle cx="508" cy="427.7" r="2.1" fill="#ff7474" fill-opacity="0.9" stroke="#ff4d4d" stroke-width="0.6"/>
<circle cx="510.6" cy="439.4" r="2.1" fill="#ff7474" fill-opacity="0.9" stroke="#ff4d4d" stroke-width="0.6"/>
<circle cx="513.2" cy="456.1" r="2.1" fill="#ff7474" fill-opacity="0.9" stroke="#ff4d4d" stroke-width="0.6"/>
<circle cx="515.9" cy="435" r="2.1" fill="#ff7474" fill-opacity="0.9" stroke="#ff4d4d" stroke-width="0.6"/>
<circle cx="518.5" cy="435.9" r="2.1" fill="#ff7474" fill-opacity="0.9" stroke="#ff4d4d" stroke-width="0.6"/>
<circle cx="521.1" cy="443.8" r="2.1" fill="#ff7474" fill-opacity="0.9" stroke="#ff4d4d" stroke-width="0.6"/>
<circle cx="523.8" cy="442.3" r="2.1" fill="#ff7474" fill-opacity="0.9" stroke="#ff4d4d" stroke-width="0.6"/>
<circle cx="526.4" cy="454.9" r="2.1" fill="#ff7474" fill-opacity="0.9" stroke="#ff4d4d" stroke-width="0.6"/>
<circle cx="529" cy="473.9" r="2.1" fill="#ff7474" fill-opacity="0.9" stroke="#ff4d4d" stroke-width="0.6"/>
<circle cx="531.6" cy="438.8" r="2.1" fill="#ff7474" fill-opacity="0.9" stroke="#ff4d4d" stroke-width="0.6"/>
<circle cx="534.3" cy="464.2" r="2.1" fill="#ff7474" fill-opacity="0.9" stroke="#ff4d4d" stroke-width="0.6"/>
<circle cx="536.9" cy="447.3" r="2.1" fill="#ff7474" fill-opacity="0.9" stroke="#ff4d4d" stroke-width="0.6"/>
<circle cx="539.5" cy="439.4" r="2.1" fill="#ff7474" fill-opacity="0.9" stroke="#ff4d4d" stroke-width="0.6"/>
<circle cx="542.2" cy="475.9" r="2.1" fill="#ff7474" fill-opacity="0.9" stroke="#ff4d4d" stroke-width="0.6"/>
<circle cx="544.8" cy="427.7" r="2.1" fill="#ff7474" fill-opacity="0.9" stroke="#ff4d4d" stroke-width="0.6"/>
<circle cx="547.4" cy="443.2" r="2.1" fill="#ff7474" fill-opacity="0.9" stroke="#ff4d4d" stroke-width="0.6"/>
<circle cx="550" cy="428.3" r="2.1" fill="#ff7474" fill-opacity="0.9" stroke="#ff4d4d" stroke-width="0.6"/>
<circle cx="552.7" cy="431.5" r="2.1" fill="#ff7474" fill-opacity="0.9" stroke="#ff4d4d" stroke-width="0.6"/>
<circle cx="555.3" cy="438.8" r="2.1" fill="#ff7474" fill-opacity="0.9" stroke="#ff4d4d" stroke-width="0.6"/>
<circle cx="557.9" cy="460.7" r="2.1" fill="#ff7474" fill-opacity="0.9" stroke="#ff4d4d" stroke-width="0.6"/>
<circle cx="560.5" cy="462.8" r="2.1" fill="#ff7474" fill-opacity="0.9" stroke="#ff4d4d" stroke-width="0.6"/>
<circle cx="563.2" cy="443.2" r="2.1" fill="#ff7474" fill-opacity="0.9" stroke="#ff4d4d" stroke-width="0.6"/>
<circle cx="565.8" cy="438" r="2.1" fill="#ff7474" fill-opacity="0.9" stroke="#ff4d4d" stroke-width="0.6"/>
<circle cx="568.4" cy="480.9" r="2.1" fill="#ff7474" fill-opacity="0.9" stroke="#ff4d4d" stroke-width="0.6"/>
<circle cx="571.1" cy="471.5" r="2.1" fill="#ff7474" fill-opacity="0.9" stroke="#ff4d4d" stroke-width="0.6"/>
<line x1="405.6" y1="449.2" x2="581.0" y2="449.2" stroke="#2050f0" stroke-width="1.1" stroke-dasharray="3.2,2"/>
<line x1="506.2" y1="450" x2="506.2" y2="477.5" stroke="#2050f0" stroke-width="0.8" stroke-dasharray="2,1.3"/>
<polygon points="506.2,481.4 504.3,476.6 508.1,476.6" fill="#2050f0"/>
<text x="484.0" y="493.2" font-size="9.0" font-weight="bold" fill="#2050f0" text-anchor="start" font-family='"Liberation Sans", sans-serif' textLength="47.6" lengthAdjust="spacingAndGlyphs"  stroke="#2050f0" stroke-width="0.25">Mean = 0.85</text>
<text x="419.5" y="386.6" font-size="10.4" font-weight="bold" fill="#000" text-anchor="start" font-family='"Liberation Sans", sans-serif' textLength="243.2" lengthAdjust="spacingAndGlyphs"  stroke="#000" stroke-width="0.25">Density Plot of Pastes&#8217; Wetted Area Ratio at Nick Times</text>
<text stroke="#111" stroke-width="0.22" transform="translate(377.0,456.2) rotate(-90)" font-size="9.0" font-weight="bold" fill="#111" text-anchor="middle" dominant-baseline="central" font-family='"Liberation Sans", sans-serif' textLength="95" lengthAdjust="spacingAndGlyphs">Area Ratio @ Nick Time</text>
<text x="498.8" y="528.0" font-size="9.7" font-weight="bold" fill="#111" text-anchor="middle" font-family='"Liberation Sans", sans-serif' textLength="68.8" lengthAdjust="spacingAndGlyphs"  stroke="#111" stroke-width="0.25">Measurement ID</text>
<rect x="600.9" y="412.0" width="78.5" height="91.19999999999999" fill="none" stroke="#a6a6a6" stroke-width="0.8"/>
<line x1="598.9" y1="503.2" x2="600.9" y2="503.2" stroke="#777" stroke-width="0.5"/>
<line x1="599.9" y1="500.9" x2="600.9" y2="500.9" stroke="#777" stroke-width="0.5"/>
<line x1="599.9" y1="498.6" x2="600.9" y2="498.6" stroke="#777" stroke-width="0.5"/>
<line x1="599.9" y1="496.3" x2="600.9" y2="496.3" stroke="#777" stroke-width="0.5"/>
<line x1="599.9" y1="494.1" x2="600.9" y2="494.1" stroke="#777" stroke-width="0.5"/>
<line x1="599.9" y1="491.8" x2="600.9" y2="491.8" stroke="#777" stroke-width="0.5"/>
<line x1="599.9" y1="489.5" x2="600.9" y2="489.5" stroke="#777" stroke-width="0.5"/>
<line x1="599.9" y1="487.2" x2="600.9" y2="487.2" stroke="#777" stroke-width="0.5"/>
<line x1="599.9" y1="484.9" x2="600.9" y2="484.9" stroke="#777" stroke-width="0.5"/>
<line x1="599.9" y1="482.6" x2="600.9" y2="482.6" stroke="#777" stroke-width="0.5"/>
<line x1="598.9" y1="480.4" x2="600.9" y2="480.4" stroke="#777" stroke-width="0.5"/>
<line x1="599.9" y1="478.1" x2="600.9" y2="478.1" stroke="#777" stroke-width="0.5"/>
<line x1="599.9" y1="475.8" x2="600.9" y2="475.8" stroke="#777" stroke-width="0.5"/>
<line x1="599.9" y1="473.5" x2="600.9" y2="473.5" stroke="#777" stroke-width="0.5"/>
<line x1="599.9" y1="471.2" x2="600.9" y2="471.2" stroke="#777" stroke-width="0.5"/>
<line x1="599.9" y1="468.9" x2="600.9" y2="468.9" stroke="#777" stroke-width="0.5"/>
<line x1="599.9" y1="466.6" x2="600.9" y2="466.6" stroke="#777" stroke-width="0.5"/>
<line x1="599.9" y1="464.4" x2="600.9" y2="464.4" stroke="#777" stroke-width="0.5"/>
<line x1="599.9" y1="462.1" x2="600.9" y2="462.1" stroke="#777" stroke-width="0.5"/>
<line x1="599.9" y1="459.8" x2="600.9" y2="459.8" stroke="#777" stroke-width="0.5"/>
<line x1="598.9" y1="457.5" x2="600.9" y2="457.5" stroke="#777" stroke-width="0.5"/>
<line x1="599.9" y1="455.2" x2="600.9" y2="455.2" stroke="#777" stroke-width="0.5"/>
<line x1="599.9" y1="452.9" x2="600.9" y2="452.9" stroke="#777" stroke-width="0.5"/>
<line x1="599.9" y1="450.6" x2="600.9" y2="450.6" stroke="#777" stroke-width="0.5"/>
<line x1="599.9" y1="448.4" x2="600.9" y2="448.4" stroke="#777" stroke-width="0.5"/>
<line x1="599.9" y1="446.1" x2="600.9" y2="446.1" stroke="#777" stroke-width="0.5"/>
<line x1="599.9" y1="443.8" x2="600.9" y2="443.8" stroke="#777" stroke-width="0.5"/>
<line x1="599.9" y1="441.5" x2="600.9" y2="441.5" stroke="#777" stroke-width="0.5"/>
<line x1="599.9" y1="439.2" x2="600.9" y2="439.2" stroke="#777" stroke-width="0.5"/>
<line x1="599.9" y1="436.9" x2="600.9" y2="436.9" stroke="#777" stroke-width="0.5"/>
<line x1="598.9" y1="434.6" x2="600.9" y2="434.6" stroke="#777" stroke-width="0.5"/>
<line x1="599.9" y1="432.4" x2="600.9" y2="432.4" stroke="#777" stroke-width="0.5"/>
<line x1="599.9" y1="430.1" x2="600.9" y2="430.1" stroke="#777" stroke-width="0.5"/>
<line x1="599.9" y1="427.8" x2="600.9" y2="427.8" stroke="#777" stroke-width="0.5"/>
<line x1="599.9" y1="425.5" x2="600.9" y2="425.5" stroke="#777" stroke-width="0.5"/>
<line x1="599.9" y1="423.2" x2="600.9" y2="423.2" stroke="#777" stroke-width="0.5"/>
<line x1="599.9" y1="420.9" x2="600.9" y2="420.9" stroke="#777" stroke-width="0.5"/>
<line x1="599.9" y1="418.7" x2="600.9" y2="418.7" stroke="#777" stroke-width="0.5"/>
<line x1="599.9" y1="416.4" x2="600.9" y2="416.4" stroke="#777" stroke-width="0.5"/>
<line x1="599.9" y1="414.1" x2="600.9" y2="414.1" stroke="#777" stroke-width="0.5"/>
<line x1="598.9" y1="411.8" x2="600.9" y2="411.8" stroke="#777" stroke-width="0.5"/>
<rect x="600.9" y="427.50" width="62.72" height="2.67" fill="#ff8a8a" stroke="#f24a4a" stroke-width="0.5"/>
<rect x="600.9" y="430.17" width="54.88" height="2.67" fill="#ff8a8a" stroke="#f24a4a" stroke-width="0.5"/>
<rect x="600.9" y="432.84" width="23.52" height="2.67" fill="#ff8a8a" stroke="#f24a4a" stroke-width="0.5"/>
<rect x="600.9" y="435.51" width="31.36" height="2.67" fill="#ff8a8a" stroke="#f24a4a" stroke-width="0.5"/>
<rect x="600.9" y="438.18" width="70.56" height="2.67" fill="#ff8a8a" stroke="#f24a4a" stroke-width="0.5"/>
<rect x="600.9" y="440.85" width="31.36" height="2.67" fill="#ff8a8a" stroke="#f24a4a" stroke-width="0.5"/>
<rect x="600.9" y="443.52" width="7.84" height="2.67" fill="#ff8a8a" stroke="#f24a4a" stroke-width="0.5"/>
<rect x="600.9" y="446.19" width="31.36" height="2.67" fill="#ff8a8a" stroke="#f24a4a" stroke-width="0.5"/>
<rect x="600.9" y="448.86" width="7.84" height="2.67" fill="#ff8a8a" stroke="#f24a4a" stroke-width="0.5"/>
<rect x="600.9" y="451.53" width="15.68" height="2.67" fill="#ff8a8a" stroke="#f24a4a" stroke-width="0.5"/>
<rect x="600.9" y="454.20" width="31.36" height="2.67" fill="#ff8a8a" stroke="#f24a4a" stroke-width="0.5"/>
<rect x="600.9" y="459.54" width="15.68" height="2.67" fill="#ff8a8a" stroke="#f24a4a" stroke-width="0.5"/>
<rect x="600.9" y="462.21" width="23.52" height="2.67" fill="#ff8a8a" stroke="#f24a4a" stroke-width="0.5"/>
<rect x="600.9" y="464.88" width="23.52" height="2.67" fill="#ff8a8a" stroke="#f24a4a" stroke-width="0.5"/>
<rect x="600.9" y="467.55" width="7.84" height="2.67" fill="#ff8a8a" stroke="#f24a4a" stroke-width="0.5"/>
<rect x="600.9" y="470.22" width="7.84" height="2.67" fill="#ff8a8a" stroke="#f24a4a" stroke-width="0.5"/>
<rect x="600.9" y="472.89" width="15.68" height="2.67" fill="#ff8a8a" stroke="#f24a4a" stroke-width="0.5"/>
<rect x="600.9" y="475.56" width="7.84" height="2.67" fill="#ff8a8a" stroke="#f24a4a" stroke-width="0.5"/>
<rect x="600.9" y="478.23" width="15.68" height="2.67" fill="#ff8a8a" stroke="#f24a4a" stroke-width="0.5"/>
<line x1="601.0" y1="503.2" x2="601.0" y2="505.2" stroke="#555" stroke-width="0.8"/>
<text x="601.0" y="512.6" font-size="8.6" fill="#222" stroke="#222" stroke-width="0.12" text-anchor="middle" dominant-baseline="central" font-family='"Liberation Sans", sans-serif'>0</text>
<line x1="640.2" y1="503.2" x2="640.2" y2="505.2" stroke="#555" stroke-width="0.8"/>
<text x="640.2" y="512.6" font-size="8.6" fill="#222" stroke="#222" stroke-width="0.12" text-anchor="middle" dominant-baseline="central" font-family='"Liberation Sans", sans-serif'>5</text>
<line x1="679.4" y1="503.2" x2="679.4" y2="505.2" stroke="#555" stroke-width="0.8"/>
<text x="679.4" y="512.6" font-size="8.6" fill="#222" stroke="#222" stroke-width="0.12" text-anchor="middle" dominant-baseline="central" font-family='"Liberation Sans", sans-serif' textLength="9.5" lengthAdjust="spacingAndGlyphs">10</text>
<line x1="601.0" y1="503.2" x2="601.0" y2="504.2" stroke="#777" stroke-width="0.5"/>
<line x1="608.8" y1="503.2" x2="608.8" y2="504.2" stroke="#777" stroke-width="0.5"/>
<line x1="616.7" y1="503.2" x2="616.7" y2="504.2" stroke="#777" stroke-width="0.5"/>
<line x1="624.5" y1="503.2" x2="624.5" y2="504.2" stroke="#777" stroke-width="0.5"/>
<line x1="632.4" y1="503.2" x2="632.4" y2="504.2" stroke="#777" stroke-width="0.5"/>
<line x1="640.2" y1="503.2" x2="640.2" y2="504.2" stroke="#777" stroke-width="0.5"/>
<line x1="648.0" y1="503.2" x2="648.0" y2="504.2" stroke="#777" stroke-width="0.5"/>
<line x1="655.9" y1="503.2" x2="655.9" y2="504.2" stroke="#777" stroke-width="0.5"/>
<line x1="663.7" y1="503.2" x2="663.7" y2="504.2" stroke="#777" stroke-width="0.5"/>
<line x1="671.6" y1="503.2" x2="671.6" y2="504.2" stroke="#777" stroke-width="0.5"/>
<line x1="679.4" y1="503.2" x2="679.4" y2="504.2" stroke="#777" stroke-width="0.5"/>
<text x="645.6" y="528.0" font-size="9.7" font-weight="bold" fill="#111" text-anchor="middle" font-family='"Liberation Sans", sans-serif' textLength="42.7" lengthAdjust="spacingAndGlyphs"  stroke="#111" stroke-width="0.25">Frequency</text>
</svg></body></html>
